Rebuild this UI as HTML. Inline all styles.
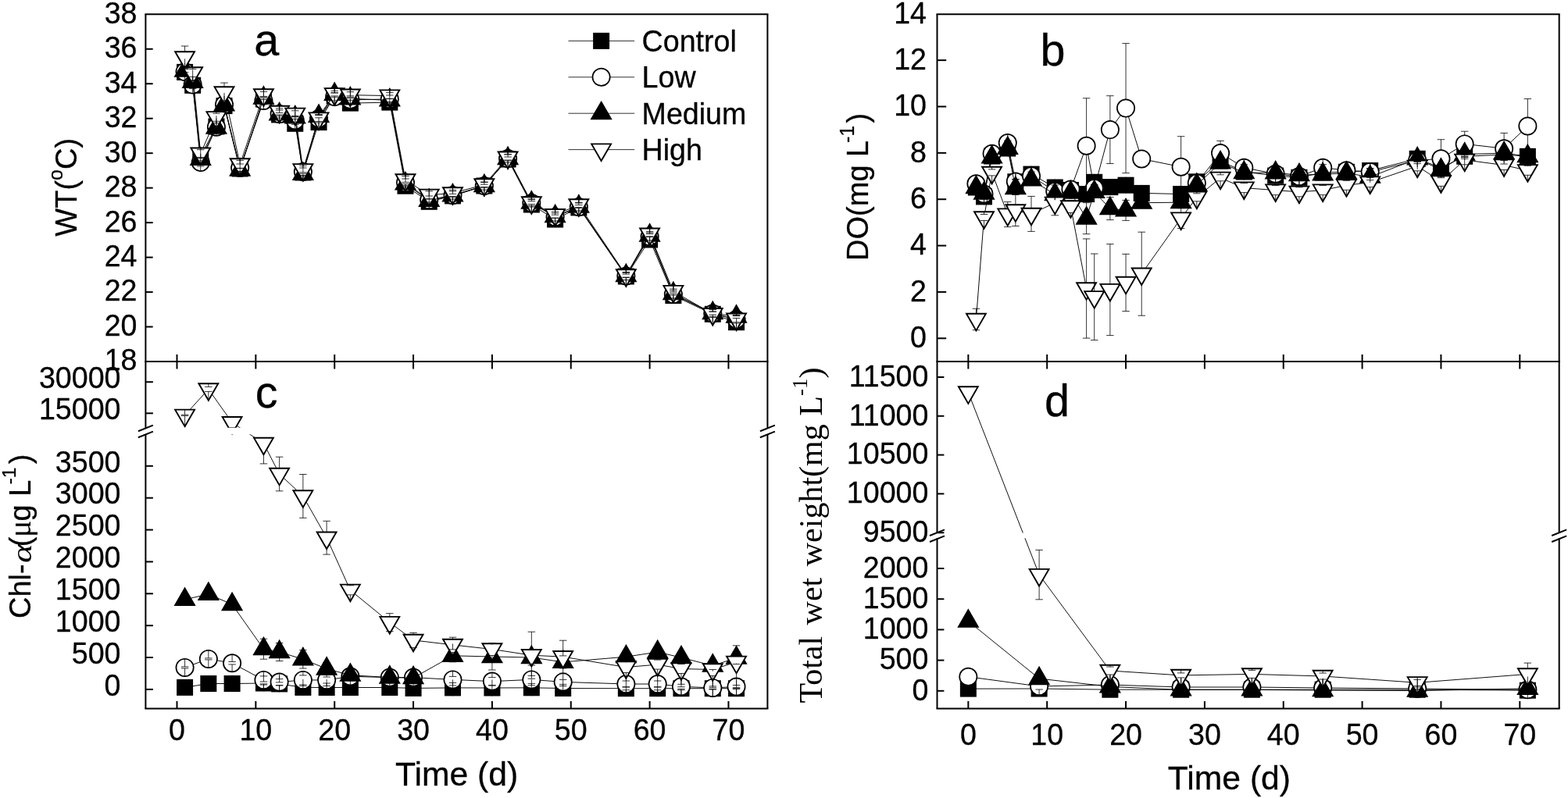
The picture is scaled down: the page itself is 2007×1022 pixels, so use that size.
<!DOCTYPE html>
<html lang="en"><head><meta charset="utf-8"><title>Figure: WT, DO, Chl-a and total wet weight over time</title><style>html,body{margin:0;padding:0;background:#fff}body{width:2007px;height:1022px;overflow:hidden}svg text{fill:#000;stroke:#000;stroke-width:0.3px;stroke-linejoin:round}</style></head><body>
<svg width="2007" height="1022" viewBox="0 0 2007 1022" style="display:block">
<rect width="2007" height="1022" fill="#fff"/>
<defs>
<clipPath id="clipC"><rect x="186.4" y="463.0" width="796.0" height="84.80"/><rect x="186.4" y="556.20" width="796.0" height="351.20"/></clipPath>
<clipPath id="clipD"><rect x="1199.5" y="463.0" width="796.2" height="219.40"/><rect x="1199.5" y="689.20" width="796.2" height="218.20"/></clipPath>
</defs>
<g>
<polyline points="236.59,92.40 246.67,109.30 256.75,200.00 276.93,162.00 287.01,135.60 307.18,216.00 337.44,127.00 357.61,146.90 377.77,158.30 387.86,221.00 408.03,156.60 428.20,123.00 448.37,132.10 498.80,131.10 518.97,238.20 549.22,258.30 579.48,250.90 619.82,238.00 650.07,204.00 680.33,262.00 710.58,281.00 740.84,265.90 801.35,354.00 831.60,307.00 861.86,378.50 912.28,402.30 942.54,412.70" fill="none" stroke="#000" stroke-width="0.95"/>
<rect x="226.09" y="81.90" width="21.0" height="21.0" fill="#000"/>
<rect x="236.17" y="98.80" width="21.0" height="21.0" fill="#000"/>
<rect x="246.25" y="189.50" width="21.0" height="21.0" fill="#000"/>
<rect x="266.43" y="151.50" width="21.0" height="21.0" fill="#000"/>
<rect x="276.51" y="125.10" width="21.0" height="21.0" fill="#000"/>
<rect x="296.68" y="205.50" width="21.0" height="21.0" fill="#000"/>
<rect x="326.94" y="116.50" width="21.0" height="21.0" fill="#000"/>
<rect x="347.11" y="136.40" width="21.0" height="21.0" fill="#000"/>
<rect x="367.27" y="147.80" width="21.0" height="21.0" fill="#000"/>
<rect x="377.36" y="210.50" width="21.0" height="21.0" fill="#000"/>
<rect x="397.53" y="146.10" width="21.0" height="21.0" fill="#000"/>
<rect x="417.70" y="112.50" width="21.0" height="21.0" fill="#000"/>
<rect x="437.87" y="121.60" width="21.0" height="21.0" fill="#000"/>
<rect x="488.30" y="120.60" width="21.0" height="21.0" fill="#000"/>
<rect x="508.47" y="227.70" width="21.0" height="21.0" fill="#000"/>
<rect x="538.72" y="247.80" width="21.0" height="21.0" fill="#000"/>
<rect x="568.98" y="240.40" width="21.0" height="21.0" fill="#000"/>
<rect x="609.32" y="227.50" width="21.0" height="21.0" fill="#000"/>
<rect x="639.57" y="193.50" width="21.0" height="21.0" fill="#000"/>
<rect x="669.83" y="251.50" width="21.0" height="21.0" fill="#000"/>
<rect x="700.08" y="270.50" width="21.0" height="21.0" fill="#000"/>
<rect x="730.34" y="255.40" width="21.0" height="21.0" fill="#000"/>
<rect x="790.85" y="343.50" width="21.0" height="21.0" fill="#000"/>
<rect x="821.10" y="296.50" width="21.0" height="21.0" fill="#000"/>
<rect x="851.36" y="368.00" width="21.0" height="21.0" fill="#000"/>
<rect x="901.78" y="391.80" width="21.0" height="21.0" fill="#000"/>
<rect x="932.04" y="402.20" width="21.0" height="21.0" fill="#000"/>
<polyline points="236.59,91.90 246.67,108.60 256.75,208.00 276.93,162.70 287.01,134.00 307.18,215.00 337.44,128.90 357.61,146.00 377.77,154.30 387.86,220.00 408.03,152.00 428.20,123.90 448.37,127.80 498.80,127.00 518.97,234.00 549.22,256.00 579.48,250.00 619.82,238.00 650.07,202.90 680.33,260.00 710.58,278.00 740.84,265.00 801.35,353.50 831.60,303.00 861.86,377.00 912.28,401.50 942.54,409.00" fill="none" stroke="#000" stroke-width="0.95"/>
<circle cx="236.59" cy="91.90" r="11.15" fill="#fff" stroke="#000" stroke-width="1.7"/>
<circle cx="246.67" cy="108.60" r="11.15" fill="#fff" stroke="#000" stroke-width="1.7"/>
<circle cx="256.75" cy="208.00" r="11.15" fill="#fff" stroke="#000" stroke-width="1.7"/>
<circle cx="276.93" cy="162.70" r="11.15" fill="#fff" stroke="#000" stroke-width="1.7"/>
<circle cx="287.01" cy="134.00" r="11.15" fill="#fff" stroke="#000" stroke-width="1.7"/>
<circle cx="307.18" cy="215.00" r="11.15" fill="#fff" stroke="#000" stroke-width="1.7"/>
<circle cx="337.44" cy="128.90" r="11.15" fill="#fff" stroke="#000" stroke-width="1.7"/>
<circle cx="357.61" cy="146.00" r="11.15" fill="#fff" stroke="#000" stroke-width="1.7"/>
<circle cx="377.77" cy="154.30" r="11.15" fill="#fff" stroke="#000" stroke-width="1.7"/>
<circle cx="387.86" cy="220.00" r="11.15" fill="#fff" stroke="#000" stroke-width="1.7"/>
<circle cx="408.03" cy="152.00" r="11.15" fill="#fff" stroke="#000" stroke-width="1.7"/>
<circle cx="428.20" cy="123.90" r="11.15" fill="#fff" stroke="#000" stroke-width="1.7"/>
<circle cx="448.37" cy="127.80" r="11.15" fill="#fff" stroke="#000" stroke-width="1.7"/>
<circle cx="498.80" cy="127.00" r="11.15" fill="#fff" stroke="#000" stroke-width="1.7"/>
<circle cx="518.97" cy="234.00" r="11.15" fill="#fff" stroke="#000" stroke-width="1.7"/>
<circle cx="549.22" cy="256.00" r="11.15" fill="#fff" stroke="#000" stroke-width="1.7"/>
<circle cx="579.48" cy="250.00" r="11.15" fill="#fff" stroke="#000" stroke-width="1.7"/>
<circle cx="619.82" cy="238.00" r="11.15" fill="#fff" stroke="#000" stroke-width="1.7"/>
<circle cx="650.07" cy="202.90" r="11.15" fill="#fff" stroke="#000" stroke-width="1.7"/>
<circle cx="680.33" cy="260.00" r="11.15" fill="#fff" stroke="#000" stroke-width="1.7"/>
<circle cx="710.58" cy="278.00" r="11.15" fill="#fff" stroke="#000" stroke-width="1.7"/>
<circle cx="740.84" cy="265.00" r="11.15" fill="#fff" stroke="#000" stroke-width="1.7"/>
<circle cx="801.35" cy="353.50" r="11.15" fill="#fff" stroke="#000" stroke-width="1.7"/>
<circle cx="831.60" cy="303.00" r="11.15" fill="#fff" stroke="#000" stroke-width="1.7"/>
<circle cx="861.86" cy="377.00" r="11.15" fill="#fff" stroke="#000" stroke-width="1.7"/>
<circle cx="912.28" cy="401.50" r="11.15" fill="#fff" stroke="#000" stroke-width="1.7"/>
<circle cx="942.54" cy="409.00" r="11.15" fill="#fff" stroke="#000" stroke-width="1.7"/>
<polyline points="236.59,90.70 246.67,104.80 256.75,203.80 276.93,163.50 287.01,134.30 307.18,217.50 337.44,125.50 357.61,146.40 377.77,150.40 387.86,222.80 408.03,148.80 428.20,120.90 448.37,126.30 498.80,128.40 518.97,235.40 549.22,256.90 579.48,250.40 619.82,238.20 650.07,203.00 680.33,259.60 710.58,277.20 740.84,264.60 801.35,353.10 831.60,301.60 861.86,376.00 912.28,401.00 942.54,405.50" fill="none" stroke="#000" stroke-width="0.95"/>
<polygon points="236.59,76.32 249.03,97.89 224.14,97.89" fill="#000" stroke="#000" stroke-width="1.9" stroke-linejoin="miter"/>
<polygon points="246.67,90.42 259.12,111.99 234.22,111.99" fill="#000" stroke="#000" stroke-width="1.9" stroke-linejoin="miter"/>
<polygon points="256.75,189.42 269.20,210.99 244.31,210.99" fill="#000" stroke="#000" stroke-width="1.9" stroke-linejoin="miter"/>
<polygon points="276.93,149.12 289.38,170.69 264.48,170.69" fill="#000" stroke="#000" stroke-width="1.9" stroke-linejoin="miter"/>
<polygon points="287.01,119.92 299.46,141.49 274.56,141.49" fill="#000" stroke="#000" stroke-width="1.9" stroke-linejoin="miter"/>
<polygon points="307.18,203.12 319.63,224.69 294.73,224.69" fill="#000" stroke="#000" stroke-width="1.9" stroke-linejoin="miter"/>
<polygon points="337.44,111.12 349.88,132.69 324.99,132.69" fill="#000" stroke="#000" stroke-width="1.9" stroke-linejoin="miter"/>
<polygon points="357.61,132.02 370.06,153.59 345.16,153.59" fill="#000" stroke="#000" stroke-width="1.9" stroke-linejoin="miter"/>
<polygon points="377.77,136.02 390.22,157.59 365.32,157.59" fill="#000" stroke="#000" stroke-width="1.9" stroke-linejoin="miter"/>
<polygon points="387.86,208.42 400.31,229.99 375.41,229.99" fill="#000" stroke="#000" stroke-width="1.9" stroke-linejoin="miter"/>
<polygon points="408.03,134.42 420.48,155.99 395.58,155.99" fill="#000" stroke="#000" stroke-width="1.9" stroke-linejoin="miter"/>
<polygon points="428.20,106.52 440.65,128.09 415.75,128.09" fill="#000" stroke="#000" stroke-width="1.9" stroke-linejoin="miter"/>
<polygon points="448.37,111.92 460.82,133.49 435.92,133.49" fill="#000" stroke="#000" stroke-width="1.9" stroke-linejoin="miter"/>
<polygon points="498.80,114.02 511.25,135.59 486.35,135.59" fill="#000" stroke="#000" stroke-width="1.9" stroke-linejoin="miter"/>
<polygon points="518.97,221.02 531.42,242.59 506.52,242.59" fill="#000" stroke="#000" stroke-width="1.9" stroke-linejoin="miter"/>
<polygon points="549.22,242.52 561.67,264.09 536.77,264.09" fill="#000" stroke="#000" stroke-width="1.9" stroke-linejoin="miter"/>
<polygon points="579.48,236.02 591.93,257.59 567.02,257.59" fill="#000" stroke="#000" stroke-width="1.9" stroke-linejoin="miter"/>
<polygon points="619.82,223.82 632.27,245.39 607.37,245.39" fill="#000" stroke="#000" stroke-width="1.9" stroke-linejoin="miter"/>
<polygon points="650.07,188.62 662.52,210.19 637.62,210.19" fill="#000" stroke="#000" stroke-width="1.9" stroke-linejoin="miter"/>
<polygon points="680.33,245.22 692.78,266.79 667.88,266.79" fill="#000" stroke="#000" stroke-width="1.9" stroke-linejoin="miter"/>
<polygon points="710.58,262.82 723.03,284.39 698.13,284.39" fill="#000" stroke="#000" stroke-width="1.9" stroke-linejoin="miter"/>
<polygon points="740.84,250.22 753.29,271.79 728.38,271.79" fill="#000" stroke="#000" stroke-width="1.9" stroke-linejoin="miter"/>
<polygon points="801.35,338.72 813.80,360.29 788.89,360.29" fill="#000" stroke="#000" stroke-width="1.9" stroke-linejoin="miter"/>
<polygon points="831.60,287.22 844.05,308.79 819.15,308.79" fill="#000" stroke="#000" stroke-width="1.9" stroke-linejoin="miter"/>
<polygon points="861.86,361.62 874.31,383.19 849.40,383.19" fill="#000" stroke="#000" stroke-width="1.9" stroke-linejoin="miter"/>
<polygon points="912.28,386.62 924.73,408.19 899.83,408.19" fill="#000" stroke="#000" stroke-width="1.9" stroke-linejoin="miter"/>
<polygon points="942.54,391.12 954.99,412.69 930.09,412.69" fill="#000" stroke="#000" stroke-width="1.9" stroke-linejoin="miter"/>
<polyline points="236.59,73.40 246.67,93.40 256.75,196.70 276.93,150.30 287.01,118.40 307.18,210.40 337.44,121.40 357.61,142.90 377.77,145.80 387.86,217.30 408.03,151.60 428.20,120.30 448.37,121.70 498.80,122.60 518.97,230.50 549.22,249.80 579.48,247.40 619.82,236.50 650.07,201.70 680.33,259.40 710.58,275.20 740.84,262.50 801.35,352.50 831.60,299.70 861.86,373.10 912.28,402.20 942.54,408.70" fill="none" stroke="#000" stroke-width="0.95"/>
<polygon points="236.59,87.78 249.03,66.21 224.14,66.21" fill="#fff" stroke="#000" stroke-width="1.9" stroke-linejoin="miter"/>
<polygon points="246.67,107.78 259.12,86.21 234.22,86.21" fill="#fff" stroke="#000" stroke-width="1.9" stroke-linejoin="miter"/>
<polygon points="256.75,211.08 269.20,189.51 244.31,189.51" fill="#fff" stroke="#000" stroke-width="1.9" stroke-linejoin="miter"/>
<polygon points="276.93,164.68 289.38,143.11 264.48,143.11" fill="#fff" stroke="#000" stroke-width="1.9" stroke-linejoin="miter"/>
<polygon points="287.01,132.78 299.46,111.21 274.56,111.21" fill="#fff" stroke="#000" stroke-width="1.9" stroke-linejoin="miter"/>
<polygon points="307.18,224.78 319.63,203.21 294.73,203.21" fill="#fff" stroke="#000" stroke-width="1.9" stroke-linejoin="miter"/>
<polygon points="337.44,135.78 349.88,114.21 324.99,114.21" fill="#fff" stroke="#000" stroke-width="1.9" stroke-linejoin="miter"/>
<polygon points="357.61,157.28 370.06,135.71 345.16,135.71" fill="#fff" stroke="#000" stroke-width="1.9" stroke-linejoin="miter"/>
<polygon points="377.77,160.18 390.22,138.61 365.32,138.61" fill="#fff" stroke="#000" stroke-width="1.9" stroke-linejoin="miter"/>
<polygon points="387.86,231.68 400.31,210.11 375.41,210.11" fill="#fff" stroke="#000" stroke-width="1.9" stroke-linejoin="miter"/>
<polygon points="408.03,165.98 420.48,144.41 395.58,144.41" fill="#fff" stroke="#000" stroke-width="1.9" stroke-linejoin="miter"/>
<polygon points="428.20,134.68 440.65,113.11 415.75,113.11" fill="#fff" stroke="#000" stroke-width="1.9" stroke-linejoin="miter"/>
<polygon points="448.37,136.08 460.82,114.51 435.92,114.51" fill="#fff" stroke="#000" stroke-width="1.9" stroke-linejoin="miter"/>
<polygon points="498.80,136.98 511.25,115.41 486.35,115.41" fill="#fff" stroke="#000" stroke-width="1.9" stroke-linejoin="miter"/>
<polygon points="518.97,244.88 531.42,223.31 506.52,223.31" fill="#fff" stroke="#000" stroke-width="1.9" stroke-linejoin="miter"/>
<polygon points="549.22,264.18 561.67,242.61 536.77,242.61" fill="#fff" stroke="#000" stroke-width="1.9" stroke-linejoin="miter"/>
<polygon points="579.48,261.78 591.93,240.21 567.02,240.21" fill="#fff" stroke="#000" stroke-width="1.9" stroke-linejoin="miter"/>
<polygon points="619.82,250.88 632.27,229.31 607.37,229.31" fill="#fff" stroke="#000" stroke-width="1.9" stroke-linejoin="miter"/>
<polygon points="650.07,216.08 662.52,194.51 637.62,194.51" fill="#fff" stroke="#000" stroke-width="1.9" stroke-linejoin="miter"/>
<polygon points="680.33,273.78 692.78,252.21 667.88,252.21" fill="#fff" stroke="#000" stroke-width="1.9" stroke-linejoin="miter"/>
<polygon points="710.58,289.58 723.03,268.01 698.13,268.01" fill="#fff" stroke="#000" stroke-width="1.9" stroke-linejoin="miter"/>
<polygon points="740.84,276.88 753.29,255.31 728.38,255.31" fill="#fff" stroke="#000" stroke-width="1.9" stroke-linejoin="miter"/>
<polygon points="801.35,366.88 813.80,345.31 788.89,345.31" fill="#fff" stroke="#000" stroke-width="1.9" stroke-linejoin="miter"/>
<polygon points="831.60,314.08 844.05,292.51 819.15,292.51" fill="#fff" stroke="#000" stroke-width="1.9" stroke-linejoin="miter"/>
<polygon points="861.86,387.48 874.31,365.91 849.40,365.91" fill="#fff" stroke="#000" stroke-width="1.9" stroke-linejoin="miter"/>
<polygon points="912.28,416.58 924.73,395.01 899.83,395.01" fill="#fff" stroke="#000" stroke-width="1.9" stroke-linejoin="miter"/>
<polygon points="942.54,423.08 954.99,401.51 930.09,401.51" fill="#fff" stroke="#000" stroke-width="1.9" stroke-linejoin="miter"/>
<path d="M231.84,86.90h9.5M236.59,80.75V86.90M231.84,96.90h9.5M236.59,103.05V96.90M241.92,103.60h9.5M246.67,97.45V103.60M241.92,113.60h9.5M246.67,119.75V113.60M252.00,203.00h9.5M256.75,196.85V203.00M252.00,213.00h9.5M256.75,219.15V213.00M272.18,157.70h9.5M276.93,151.55V157.70M272.18,167.70h9.5M276.93,173.85V167.70M282.26,129.00h9.5M287.01,122.85V129.00M282.26,139.00h9.5M287.01,145.15V139.00M302.43,210.00h9.5M307.18,203.85V210.00M302.43,220.00h9.5M307.18,226.15V220.00M332.69,123.90h9.5M337.44,117.75V123.90M332.69,133.90h9.5M337.44,140.05V133.90M352.86,141.00h9.5M357.61,134.85V141.00M352.86,151.00h9.5M357.61,157.15V151.00M373.02,149.30h9.5M377.77,143.15V149.30M373.02,159.30h9.5M377.77,165.45V159.30M383.11,215.00h9.5M387.86,208.85V215.00M383.11,225.00h9.5M387.86,231.15V225.00M403.28,147.00h9.5M408.03,140.85V147.00M403.28,157.00h9.5M408.03,163.15V157.00M423.45,118.90h9.5M428.20,112.75V118.90M423.45,128.90h9.5M428.20,135.05V128.90M443.62,122.80h9.5M448.37,116.65V122.80M443.62,132.80h9.5M448.37,138.95V132.80M494.05,122.00h9.5M498.80,115.85V122.00M494.05,132.00h9.5M498.80,138.15V132.00M514.22,229.00h9.5M518.97,222.85V229.00M514.22,239.00h9.5M518.97,245.15V239.00M544.47,251.00h9.5M549.22,244.85V251.00M544.47,261.00h9.5M549.22,267.15V261.00M574.73,245.00h9.5M579.48,238.85V245.00M574.73,255.00h9.5M579.48,261.15V255.00M615.07,233.00h9.5M619.82,226.85V233.00M615.07,243.00h9.5M619.82,249.15V243.00M645.32,197.90h9.5M650.07,191.75V197.90M645.32,207.90h9.5M650.07,214.05V207.90M675.58,255.00h9.5M680.33,248.85V255.00M675.58,265.00h9.5M680.33,271.15V265.00M705.83,273.00h9.5M710.58,266.85V273.00M705.83,283.00h9.5M710.58,289.15V283.00M736.09,260.00h9.5M740.84,253.85V260.00M736.09,270.00h9.5M740.84,276.15V270.00M796.60,348.50h9.5M801.35,342.35V348.50M796.60,358.50h9.5M801.35,364.65V358.50M826.85,298.00h9.5M831.60,291.85V298.00M826.85,308.00h9.5M831.60,314.15V308.00M857.11,372.00h9.5M861.86,365.85V372.00M857.11,382.00h9.5M861.86,388.15V382.00M907.53,396.50h9.5M912.28,390.35V396.50M907.53,406.50h9.5M912.28,412.65V406.50M937.79,404.00h9.5M942.54,397.85V404.00M937.79,414.00h9.5M942.54,420.15V414.00" fill="none" stroke="#000" stroke-width="0.8"/>
<path d="M231.84,88.70h9.5M236.59,75.32V88.70M231.84,92.70h9.5M236.59,97.89V92.70M241.92,102.80h9.5M246.67,89.42V102.80M241.92,106.80h9.5M246.67,111.99V106.80M252.00,201.80h9.5M256.75,188.42V201.80M252.00,205.80h9.5M256.75,210.99V205.80M272.18,161.50h9.5M276.93,148.12V161.50M272.18,165.50h9.5M276.93,170.69V165.50M282.26,132.30h9.5M287.01,118.92V132.30M282.26,136.30h9.5M287.01,141.49V136.30M302.43,215.50h9.5M307.18,202.12V215.50M302.43,219.50h9.5M307.18,224.69V219.50M332.69,123.50h9.5M337.44,110.12V123.50M332.69,127.50h9.5M337.44,132.69V127.50M352.86,144.40h9.5M357.61,131.02V144.40M352.86,148.40h9.5M357.61,153.59V148.40M373.02,148.40h9.5M377.77,135.02V148.40M373.02,152.40h9.5M377.77,157.59V152.40M383.11,220.80h9.5M387.86,207.42V220.80M383.11,224.80h9.5M387.86,229.99V224.80M403.28,146.80h9.5M408.03,133.42V146.80M403.28,150.80h9.5M408.03,155.99V150.80M423.45,118.90h9.5M428.20,105.52V118.90M423.45,122.90h9.5M428.20,128.09V122.90M443.62,124.30h9.5M448.37,110.92V124.30M443.62,128.30h9.5M448.37,133.49V128.30M494.05,126.40h9.5M498.80,113.02V126.40M494.05,130.40h9.5M498.80,135.59V130.40M514.22,233.40h9.5M518.97,220.02V233.40M514.22,237.40h9.5M518.97,242.59V237.40M544.47,254.90h9.5M549.22,241.52V254.90M544.47,258.90h9.5M549.22,264.09V258.90M574.73,248.40h9.5M579.48,235.02V248.40M574.73,252.40h9.5M579.48,257.59V252.40M615.07,236.20h9.5M619.82,222.82V236.20M615.07,240.20h9.5M619.82,245.39V240.20M645.32,201.00h9.5M650.07,187.62V201.00M645.32,205.00h9.5M650.07,210.19V205.00M675.58,257.60h9.5M680.33,244.22V257.60M675.58,261.60h9.5M680.33,266.79V261.60M705.83,275.20h9.5M710.58,261.82V275.20M705.83,279.20h9.5M710.58,284.39V279.20M736.09,262.60h9.5M740.84,249.22V262.60M736.09,266.60h9.5M740.84,271.79V266.60M796.60,351.10h9.5M801.35,337.72V351.10M796.60,355.10h9.5M801.35,360.29V355.10M826.85,299.60h9.5M831.60,286.22V299.60M826.85,303.60h9.5M831.60,308.79V303.60M857.11,374.00h9.5M861.86,360.62V374.00M857.11,378.00h9.5M861.86,383.19V378.00M907.53,399.00h9.5M912.28,385.62V399.00M907.53,403.00h9.5M912.28,408.19V403.00M937.79,403.50h9.5M942.54,390.12V403.50M937.79,407.50h9.5M942.54,412.69V407.50" fill="none" stroke="#000" stroke-width="0.8"/>
<path d="M231.84,59.00h9.5M236.59,66.21V59.00M231.84,87.80h9.5M236.59,88.78V87.80M241.92,88.40h9.5M246.67,86.21V88.40M241.92,98.40h9.5M246.67,108.78V98.40M252.00,191.70h9.5M256.75,189.51V191.70M252.00,201.70h9.5M256.75,212.08V201.70M272.18,145.30h9.5M276.93,143.11V145.30M272.18,155.30h9.5M276.93,165.68V155.30M282.26,106.10h9.5M287.01,111.21V106.10M282.26,130.70h9.5M287.01,133.78V130.70M302.43,205.40h9.5M307.18,203.21V205.40M302.43,215.40h9.5M307.18,225.78V215.40M332.69,117.40h9.5M337.44,114.21V117.40M332.69,125.40h9.5M337.44,136.78V125.40M352.86,138.90h9.5M357.61,135.71V138.90M352.86,146.90h9.5M357.61,158.28V146.90M373.02,141.80h9.5M377.77,138.61V141.80M373.02,149.80h9.5M377.77,161.18V149.80M383.11,212.30h9.5M387.86,210.11V212.30M383.11,222.30h9.5M387.86,232.68V222.30M403.28,147.60h9.5M408.03,144.41V147.60M403.28,155.60h9.5M408.03,166.98V155.60M423.45,116.30h9.5M428.20,113.11V116.30M423.45,124.30h9.5M428.20,135.68V124.30M443.62,117.70h9.5M448.37,114.51V117.70M443.62,125.70h9.5M448.37,137.08V125.70M494.05,118.60h9.5M498.80,115.41V118.60M494.05,126.60h9.5M498.80,137.98V126.60M514.22,225.50h9.5M518.97,223.31V225.50M514.22,235.50h9.5M518.97,245.88V235.50M544.47,244.80h9.5M549.22,242.61V244.80M544.47,254.80h9.5M549.22,265.18V254.80M574.73,243.40h9.5M579.48,240.21V243.40M574.73,251.40h9.5M579.48,262.78V251.40M615.07,233.50h9.5M619.82,229.31V233.50M615.07,239.50h9.5M619.82,251.88V239.50M645.32,197.70h9.5M650.07,194.51V197.70M645.32,205.70h9.5M650.07,217.08V205.70M675.58,255.40h9.5M680.33,252.21V255.40M675.58,263.40h9.5M680.33,274.78V263.40M705.83,271.20h9.5M710.58,268.01V271.20M705.83,279.20h9.5M710.58,290.58V279.20M736.09,259.50h9.5M740.84,255.31V259.50M736.09,265.50h9.5M740.84,277.88V265.50M796.60,349.50h9.5M801.35,345.31V349.50M796.60,355.50h9.5M801.35,367.88V355.50M826.85,296.70h9.5M831.60,292.51V296.70M826.85,302.70h9.5M831.60,315.08V302.70M857.11,370.10h9.5M861.86,365.91V370.10M857.11,376.10h9.5M861.86,388.48V376.10M907.53,399.20h9.5M912.28,395.01V399.20M907.53,405.20h9.5M912.28,417.58V405.20M937.79,404.70h9.5M942.54,401.51V404.70M937.79,412.70h9.5M942.54,424.08V412.70" fill="none" stroke="#000" stroke-width="0.8"/>
</g>
<g>
<polyline points="1249.43,240.00 1259.52,251.90 1269.61,200.00 1289.77,190.00 1299.86,232.80 1320.03,223.10 1350.28,240.00 1370.45,243.50 1390.62,248.60 1400.71,233.30 1420.88,239.60 1441.05,237.20 1461.22,247.40 1511.64,248.50 1531.82,232.80 1562.07,206.00 1592.32,220.00 1632.66,225.10 1662.92,227.30 1693.17,221.00 1723.43,220.30 1753.68,218.50 1814.19,203.30 1844.45,215.00 1874.70,200.30 1925.13,198.00 1955.38,200.30" fill="none" stroke="#000" stroke-width="0.95"/>
<rect x="1238.93" y="229.50" width="21.0" height="21.0" fill="#000"/>
<rect x="1249.02" y="241.40" width="21.0" height="21.0" fill="#000"/>
<rect x="1259.11" y="189.50" width="21.0" height="21.0" fill="#000"/>
<rect x="1279.27" y="179.50" width="21.0" height="21.0" fill="#000"/>
<rect x="1289.36" y="222.30" width="21.0" height="21.0" fill="#000"/>
<rect x="1309.53" y="212.60" width="21.0" height="21.0" fill="#000"/>
<rect x="1339.78" y="229.50" width="21.0" height="21.0" fill="#000"/>
<rect x="1359.95" y="233.00" width="21.0" height="21.0" fill="#000"/>
<rect x="1380.12" y="238.10" width="21.0" height="21.0" fill="#000"/>
<rect x="1390.21" y="222.80" width="21.0" height="21.0" fill="#000"/>
<rect x="1410.38" y="229.10" width="21.0" height="21.0" fill="#000"/>
<rect x="1430.55" y="226.70" width="21.0" height="21.0" fill="#000"/>
<rect x="1450.72" y="236.90" width="21.0" height="21.0" fill="#000"/>
<rect x="1501.14" y="238.00" width="21.0" height="21.0" fill="#000"/>
<rect x="1521.32" y="222.30" width="21.0" height="21.0" fill="#000"/>
<rect x="1551.57" y="195.50" width="21.0" height="21.0" fill="#000"/>
<rect x="1581.82" y="209.50" width="21.0" height="21.0" fill="#000"/>
<rect x="1622.16" y="214.60" width="21.0" height="21.0" fill="#000"/>
<rect x="1652.42" y="216.80" width="21.0" height="21.0" fill="#000"/>
<rect x="1682.67" y="210.50" width="21.0" height="21.0" fill="#000"/>
<rect x="1712.93" y="209.80" width="21.0" height="21.0" fill="#000"/>
<rect x="1743.18" y="208.00" width="21.0" height="21.0" fill="#000"/>
<rect x="1803.69" y="192.80" width="21.0" height="21.0" fill="#000"/>
<rect x="1833.95" y="204.50" width="21.0" height="21.0" fill="#000"/>
<rect x="1864.20" y="189.80" width="21.0" height="21.0" fill="#000"/>
<rect x="1914.63" y="187.50" width="21.0" height="21.0" fill="#000"/>
<rect x="1944.88" y="189.80" width="21.0" height="21.0" fill="#000"/>
<polyline points="1249.43,235.30 1259.52,248.40 1269.61,196.80 1289.77,183.10 1299.86,232.50 1320.03,225.40 1350.28,245.00 1370.45,242.60 1390.62,186.80 1400.71,241.10 1420.88,166.10 1441.05,138.60 1461.22,203.50 1511.64,213.70 1531.82,234.60 1562.07,196.10 1592.32,214.70 1632.66,222.70 1662.92,226.00 1693.17,214.70 1723.43,218.20 1753.68,220.10 1814.19,205.60 1844.45,203.20 1874.70,184.40 1925.13,190.20 1955.38,161.50" fill="none" stroke="#000" stroke-width="0.95"/>
<circle cx="1249.43" cy="235.30" r="11.15" fill="#fff" stroke="#000" stroke-width="1.7"/>
<circle cx="1259.52" cy="248.40" r="11.15" fill="#fff" stroke="#000" stroke-width="1.7"/>
<circle cx="1269.61" cy="196.80" r="11.15" fill="#fff" stroke="#000" stroke-width="1.7"/>
<circle cx="1289.77" cy="183.10" r="11.15" fill="#fff" stroke="#000" stroke-width="1.7"/>
<circle cx="1299.86" cy="232.50" r="11.15" fill="#fff" stroke="#000" stroke-width="1.7"/>
<circle cx="1320.03" cy="225.40" r="11.15" fill="#fff" stroke="#000" stroke-width="1.7"/>
<circle cx="1350.28" cy="245.00" r="11.15" fill="#fff" stroke="#000" stroke-width="1.7"/>
<circle cx="1370.45" cy="242.60" r="11.15" fill="#fff" stroke="#000" stroke-width="1.7"/>
<circle cx="1390.62" cy="186.80" r="11.15" fill="#fff" stroke="#000" stroke-width="1.7"/>
<circle cx="1400.71" cy="241.10" r="11.15" fill="#fff" stroke="#000" stroke-width="1.7"/>
<circle cx="1420.88" cy="166.10" r="11.15" fill="#fff" stroke="#000" stroke-width="1.7"/>
<circle cx="1441.05" cy="138.60" r="11.15" fill="#fff" stroke="#000" stroke-width="1.7"/>
<circle cx="1461.22" cy="203.50" r="11.15" fill="#fff" stroke="#000" stroke-width="1.7"/>
<circle cx="1511.64" cy="213.70" r="11.15" fill="#fff" stroke="#000" stroke-width="1.7"/>
<circle cx="1531.82" cy="234.60" r="11.15" fill="#fff" stroke="#000" stroke-width="1.7"/>
<circle cx="1562.07" cy="196.10" r="11.15" fill="#fff" stroke="#000" stroke-width="1.7"/>
<circle cx="1592.32" cy="214.70" r="11.15" fill="#fff" stroke="#000" stroke-width="1.7"/>
<circle cx="1632.66" cy="222.70" r="11.15" fill="#fff" stroke="#000" stroke-width="1.7"/>
<circle cx="1662.92" cy="226.00" r="11.15" fill="#fff" stroke="#000" stroke-width="1.7"/>
<circle cx="1693.17" cy="214.70" r="11.15" fill="#fff" stroke="#000" stroke-width="1.7"/>
<circle cx="1723.43" cy="218.20" r="11.15" fill="#fff" stroke="#000" stroke-width="1.7"/>
<circle cx="1753.68" cy="220.10" r="11.15" fill="#fff" stroke="#000" stroke-width="1.7"/>
<circle cx="1814.19" cy="205.60" r="11.15" fill="#fff" stroke="#000" stroke-width="1.7"/>
<circle cx="1844.45" cy="203.20" r="11.15" fill="#fff" stroke="#000" stroke-width="1.7"/>
<circle cx="1874.70" cy="184.40" r="11.15" fill="#fff" stroke="#000" stroke-width="1.7"/>
<circle cx="1925.13" cy="190.20" r="11.15" fill="#fff" stroke="#000" stroke-width="1.7"/>
<circle cx="1955.38" cy="161.50" r="11.15" fill="#fff" stroke="#000" stroke-width="1.7"/>
<polyline points="1249.43,240.00 1259.52,247.70 1269.61,201.30 1289.77,189.80 1299.86,241.20 1320.03,230.30 1350.28,249.00 1370.45,246.60 1390.62,279.70 1400.71,245.80 1420.88,267.10 1441.05,269.40 1461.22,259.70 1511.64,259.20 1531.82,236.80 1562.07,208.40 1592.32,221.10 1632.66,221.30 1662.92,224.20 1693.17,223.30 1723.43,221.70 1753.68,226.60 1814.19,203.30 1844.45,217.50 1874.70,197.50 1925.13,196.20 1955.38,200.00" fill="none" stroke="#000" stroke-width="0.95"/>
<polygon points="1249.43,225.62 1261.88,247.19 1236.98,247.19" fill="#000" stroke="#000" stroke-width="1.9" stroke-linejoin="miter"/>
<polygon points="1259.52,233.32 1271.97,254.89 1247.07,254.89" fill="#000" stroke="#000" stroke-width="1.9" stroke-linejoin="miter"/>
<polygon points="1269.61,186.92 1282.06,208.49 1257.15,208.49" fill="#000" stroke="#000" stroke-width="1.9" stroke-linejoin="miter"/>
<polygon points="1289.77,175.42 1302.22,196.99 1277.32,196.99" fill="#000" stroke="#000" stroke-width="1.9" stroke-linejoin="miter"/>
<polygon points="1299.86,226.82 1312.31,248.39 1287.41,248.39" fill="#000" stroke="#000" stroke-width="1.9" stroke-linejoin="miter"/>
<polygon points="1320.03,215.92 1332.48,237.49 1307.58,237.49" fill="#000" stroke="#000" stroke-width="1.9" stroke-linejoin="miter"/>
<polygon points="1350.28,234.62 1362.73,256.19 1337.83,256.19" fill="#000" stroke="#000" stroke-width="1.9" stroke-linejoin="miter"/>
<polygon points="1370.45,232.22 1382.90,253.79 1358.00,253.79" fill="#000" stroke="#000" stroke-width="1.9" stroke-linejoin="miter"/>
<polygon points="1390.62,265.32 1403.08,286.89 1378.17,286.89" fill="#000" stroke="#000" stroke-width="1.9" stroke-linejoin="miter"/>
<polygon points="1400.71,231.42 1413.16,252.99 1388.26,252.99" fill="#000" stroke="#000" stroke-width="1.9" stroke-linejoin="miter"/>
<polygon points="1420.88,252.72 1433.33,274.29 1408.43,274.29" fill="#000" stroke="#000" stroke-width="1.9" stroke-linejoin="miter"/>
<polygon points="1441.05,255.02 1453.50,276.59 1428.60,276.59" fill="#000" stroke="#000" stroke-width="1.9" stroke-linejoin="miter"/>
<polygon points="1461.22,245.32 1473.67,266.89 1448.77,266.89" fill="#000" stroke="#000" stroke-width="1.9" stroke-linejoin="miter"/>
<polygon points="1511.64,244.82 1524.10,266.39 1499.19,266.39" fill="#000" stroke="#000" stroke-width="1.9" stroke-linejoin="miter"/>
<polygon points="1531.82,222.42 1544.27,243.99 1519.37,243.99" fill="#000" stroke="#000" stroke-width="1.9" stroke-linejoin="miter"/>
<polygon points="1562.07,194.02 1574.52,215.59 1549.62,215.59" fill="#000" stroke="#000" stroke-width="1.9" stroke-linejoin="miter"/>
<polygon points="1592.32,206.72 1604.77,228.29 1579.87,228.29" fill="#000" stroke="#000" stroke-width="1.9" stroke-linejoin="miter"/>
<polygon points="1632.66,206.92 1645.12,228.49 1620.21,228.49" fill="#000" stroke="#000" stroke-width="1.9" stroke-linejoin="miter"/>
<polygon points="1662.92,209.82 1675.37,231.39 1650.47,231.39" fill="#000" stroke="#000" stroke-width="1.9" stroke-linejoin="miter"/>
<polygon points="1693.17,208.92 1705.62,230.49 1680.72,230.49" fill="#000" stroke="#000" stroke-width="1.9" stroke-linejoin="miter"/>
<polygon points="1723.43,207.32 1735.88,228.89 1710.98,228.89" fill="#000" stroke="#000" stroke-width="1.9" stroke-linejoin="miter"/>
<polygon points="1753.68,212.22 1766.13,233.79 1741.23,233.79" fill="#000" stroke="#000" stroke-width="1.9" stroke-linejoin="miter"/>
<polygon points="1814.19,188.92 1826.64,210.49 1801.74,210.49" fill="#000" stroke="#000" stroke-width="1.9" stroke-linejoin="miter"/>
<polygon points="1844.45,203.12 1856.90,224.69 1832.00,224.69" fill="#000" stroke="#000" stroke-width="1.9" stroke-linejoin="miter"/>
<polygon points="1874.70,183.12 1887.15,204.69 1862.25,204.69" fill="#000" stroke="#000" stroke-width="1.9" stroke-linejoin="miter"/>
<polygon points="1925.13,181.82 1937.58,203.39 1912.68,203.39" fill="#000" stroke="#000" stroke-width="1.9" stroke-linejoin="miter"/>
<polygon points="1955.38,185.62 1967.84,207.19 1942.93,207.19" fill="#000" stroke="#000" stroke-width="1.9" stroke-linejoin="miter"/>
<polyline points="1249.43,409.00 1259.52,278.50 1269.61,220.90 1289.77,274.60 1299.86,269.50 1320.03,273.90 1350.28,259.80 1370.45,264.50 1390.62,369.50 1400.71,380.30 1420.88,371.10 1441.05,362.00 1461.22,350.70 1511.64,279.60 1531.82,252.80 1562.07,227.80 1592.32,240.60 1632.66,243.60 1662.92,245.80 1693.17,243.60 1723.43,237.30 1753.68,233.60 1814.19,212.80 1844.45,232.40 1874.70,204.80 1925.13,211.50 1955.38,218.30" fill="none" stroke="#000" stroke-width="0.95"/>
<polygon points="1249.43,423.38 1261.88,401.81 1236.98,401.81" fill="#fff" stroke="#000" stroke-width="1.9" stroke-linejoin="miter"/>
<polygon points="1259.52,292.88 1271.97,271.31 1247.07,271.31" fill="#fff" stroke="#000" stroke-width="1.9" stroke-linejoin="miter"/>
<polygon points="1269.61,235.28 1282.06,213.71 1257.15,213.71" fill="#fff" stroke="#000" stroke-width="1.9" stroke-linejoin="miter"/>
<polygon points="1289.77,288.98 1302.22,267.41 1277.32,267.41" fill="#fff" stroke="#000" stroke-width="1.9" stroke-linejoin="miter"/>
<polygon points="1299.86,283.88 1312.31,262.31 1287.41,262.31" fill="#fff" stroke="#000" stroke-width="1.9" stroke-linejoin="miter"/>
<polygon points="1320.03,288.28 1332.48,266.71 1307.58,266.71" fill="#fff" stroke="#000" stroke-width="1.9" stroke-linejoin="miter"/>
<polygon points="1350.28,274.18 1362.73,252.61 1337.83,252.61" fill="#fff" stroke="#000" stroke-width="1.9" stroke-linejoin="miter"/>
<polygon points="1370.45,278.88 1382.90,257.31 1358.00,257.31" fill="#fff" stroke="#000" stroke-width="1.9" stroke-linejoin="miter"/>
<polygon points="1390.62,383.88 1403.08,362.31 1378.17,362.31" fill="#fff" stroke="#000" stroke-width="1.9" stroke-linejoin="miter"/>
<polygon points="1400.71,394.68 1413.16,373.11 1388.26,373.11" fill="#fff" stroke="#000" stroke-width="1.9" stroke-linejoin="miter"/>
<polygon points="1420.88,385.48 1433.33,363.91 1408.43,363.91" fill="#fff" stroke="#000" stroke-width="1.9" stroke-linejoin="miter"/>
<polygon points="1441.05,376.38 1453.50,354.81 1428.60,354.81" fill="#fff" stroke="#000" stroke-width="1.9" stroke-linejoin="miter"/>
<polygon points="1461.22,365.08 1473.67,343.51 1448.77,343.51" fill="#fff" stroke="#000" stroke-width="1.9" stroke-linejoin="miter"/>
<polygon points="1511.64,293.98 1524.10,272.41 1499.19,272.41" fill="#fff" stroke="#000" stroke-width="1.9" stroke-linejoin="miter"/>
<polygon points="1531.82,267.18 1544.27,245.61 1519.37,245.61" fill="#fff" stroke="#000" stroke-width="1.9" stroke-linejoin="miter"/>
<polygon points="1562.07,242.18 1574.52,220.61 1549.62,220.61" fill="#fff" stroke="#000" stroke-width="1.9" stroke-linejoin="miter"/>
<polygon points="1592.32,254.98 1604.77,233.41 1579.87,233.41" fill="#fff" stroke="#000" stroke-width="1.9" stroke-linejoin="miter"/>
<polygon points="1632.66,257.98 1645.12,236.41 1620.21,236.41" fill="#fff" stroke="#000" stroke-width="1.9" stroke-linejoin="miter"/>
<polygon points="1662.92,260.18 1675.37,238.61 1650.47,238.61" fill="#fff" stroke="#000" stroke-width="1.9" stroke-linejoin="miter"/>
<polygon points="1693.17,257.98 1705.62,236.41 1680.72,236.41" fill="#fff" stroke="#000" stroke-width="1.9" stroke-linejoin="miter"/>
<polygon points="1723.43,251.68 1735.88,230.11 1710.98,230.11" fill="#fff" stroke="#000" stroke-width="1.9" stroke-linejoin="miter"/>
<polygon points="1753.68,247.98 1766.13,226.41 1741.23,226.41" fill="#fff" stroke="#000" stroke-width="1.9" stroke-linejoin="miter"/>
<polygon points="1814.19,227.18 1826.64,205.61 1801.74,205.61" fill="#fff" stroke="#000" stroke-width="1.9" stroke-linejoin="miter"/>
<polygon points="1844.45,246.78 1856.90,225.21 1832.00,225.21" fill="#fff" stroke="#000" stroke-width="1.9" stroke-linejoin="miter"/>
<polygon points="1874.70,219.18 1887.15,197.61 1862.25,197.61" fill="#fff" stroke="#000" stroke-width="1.9" stroke-linejoin="miter"/>
<polygon points="1925.13,225.88 1937.58,204.31 1912.68,204.31" fill="#fff" stroke="#000" stroke-width="1.9" stroke-linejoin="miter"/>
<polygon points="1955.38,232.68 1967.84,211.11 1942.93,211.11" fill="#fff" stroke="#000" stroke-width="1.9" stroke-linejoin="miter"/>
<path d="M1244.68,237.00h9.5M1249.43,229.50V237.00M1244.68,243.00h9.5M1249.43,250.50V243.00M1254.77,248.90h9.5M1259.52,241.40V248.90M1254.77,254.90h9.5M1259.52,262.40V254.90M1264.86,197.00h9.5M1269.61,189.50V197.00M1264.86,203.00h9.5M1269.61,210.50V203.00M1285.02,187.00h9.5M1289.77,179.50V187.00M1285.02,193.00h9.5M1289.77,200.50V193.00M1295.11,229.80h9.5M1299.86,222.30V229.80M1295.11,235.80h9.5M1299.86,243.30V235.80M1315.28,220.10h9.5M1320.03,212.60V220.10M1315.28,226.10h9.5M1320.03,233.60V226.10M1345.53,237.00h9.5M1350.28,229.50V237.00M1345.53,243.00h9.5M1350.28,250.50V243.00M1365.70,240.50h9.5M1370.45,233.00V240.50M1365.70,246.50h9.5M1370.45,254.00V246.50M1385.88,245.60h9.5M1390.62,238.10V245.60M1385.88,251.60h9.5M1390.62,259.10V251.60M1395.96,230.30h9.5M1400.71,222.80V230.30M1395.96,236.30h9.5M1400.71,243.80V236.30M1416.13,236.60h9.5M1420.88,229.10V236.60M1416.13,242.60h9.5M1420.88,250.10V242.60M1436.30,234.20h9.5M1441.05,226.70V234.20M1436.30,240.20h9.5M1441.05,247.70V240.20M1456.47,244.40h9.5M1461.22,236.90V244.40M1456.47,250.40h9.5M1461.22,257.90V250.40M1506.89,245.50h9.5M1511.64,238.00V245.50M1506.89,251.50h9.5M1511.64,259.00V251.50M1527.07,229.80h9.5M1531.82,222.30V229.80M1527.07,235.80h9.5M1531.82,243.30V235.80M1557.32,203.00h9.5M1562.07,195.50V203.00M1557.32,209.00h9.5M1562.07,216.50V209.00M1587.57,217.00h9.5M1592.32,209.50V217.00M1587.57,223.00h9.5M1592.32,230.50V223.00M1627.91,222.10h9.5M1632.66,214.60V222.10M1627.91,228.10h9.5M1632.66,235.60V228.10M1658.17,224.30h9.5M1662.92,216.80V224.30M1658.17,230.30h9.5M1662.92,237.80V230.30M1688.42,218.00h9.5M1693.17,210.50V218.00M1688.42,224.00h9.5M1693.17,231.50V224.00M1718.68,217.30h9.5M1723.43,209.80V217.30M1718.68,223.30h9.5M1723.43,230.80V223.30M1748.93,215.50h9.5M1753.68,208.00V215.50M1748.93,221.50h9.5M1753.68,229.00V221.50M1809.44,200.30h9.5M1814.19,192.80V200.30M1809.44,206.30h9.5M1814.19,213.80V206.30M1839.70,212.00h9.5M1844.45,204.50V212.00M1839.70,218.00h9.5M1844.45,225.50V218.00M1869.95,197.30h9.5M1874.70,189.80V197.30M1869.95,203.30h9.5M1874.70,210.80V203.30M1920.38,195.00h9.5M1925.13,187.50V195.00M1920.38,201.00h9.5M1925.13,208.50V201.00M1950.63,197.30h9.5M1955.38,189.80V197.30M1950.63,203.30h9.5M1955.38,210.80V203.30" fill="none" stroke="#000" stroke-width="0.8"/>
<path d="M1244.68,232.30h9.5M1249.43,224.15V232.30M1244.68,238.30h9.5M1249.43,246.45V238.30M1254.77,245.40h9.5M1259.52,237.25V245.40M1254.77,251.40h9.5M1259.52,259.55V251.40M1264.86,193.80h9.5M1269.61,185.65V193.80M1264.86,199.80h9.5M1269.61,207.95V199.80M1285.02,180.10h9.5M1289.77,171.95V180.10M1285.02,186.10h9.5M1289.77,194.25V186.10M1295.11,229.50h9.5M1299.86,221.35V229.50M1295.11,235.50h9.5M1299.86,243.65V235.50M1315.28,222.40h9.5M1320.03,214.25V222.40M1315.28,228.40h9.5M1320.03,236.55V228.40M1345.53,242.00h9.5M1350.28,233.85V242.00M1345.53,248.00h9.5M1350.28,256.15V248.00M1365.70,239.60h9.5M1370.45,231.45V239.60M1365.70,245.60h9.5M1370.45,253.75V245.60M1385.88,125.80h9.5M1390.62,175.65V125.80M1385.88,247.80h9.5M1390.62,197.95V247.80M1395.96,237.10h9.5M1400.71,229.95V237.10M1395.96,245.10h9.5M1400.71,252.25V245.10M1416.13,122.70h9.5M1420.88,154.95V122.70M1416.13,209.50h9.5M1420.88,177.25V209.50M1436.30,55.60h9.5M1441.05,127.45V55.60M1436.30,221.60h9.5M1441.05,149.75V221.60M1506.89,174.70h9.5M1511.64,202.55V174.70M1506.89,252.70h9.5M1511.64,224.85V252.70M1527.07,231.60h9.5M1531.82,223.45V231.60M1527.07,237.60h9.5M1531.82,245.75V237.60M1557.32,180.40h9.5M1562.07,184.95V180.40M1557.32,211.80h9.5M1562.07,207.25V211.80M1587.57,210.70h9.5M1592.32,203.55V210.70M1587.57,218.70h9.5M1592.32,225.85V218.70M1627.91,218.70h9.5M1632.66,211.55V218.70M1627.91,226.70h9.5M1632.66,233.85V226.70M1658.17,222.00h9.5M1662.92,214.85V222.00M1658.17,230.00h9.5M1662.92,237.15V230.00M1688.42,210.70h9.5M1693.17,203.55V210.70M1688.42,218.70h9.5M1693.17,225.85V218.70M1718.68,214.20h9.5M1723.43,207.05V214.20M1718.68,222.20h9.5M1723.43,229.35V222.20M1748.93,216.10h9.5M1753.68,208.95V216.10M1748.93,224.10h9.5M1753.68,231.25V224.10M1809.44,201.60h9.5M1814.19,194.45V201.60M1809.44,209.60h9.5M1814.19,216.75V209.60M1839.70,178.70h9.5M1844.45,192.05V178.70M1839.70,227.70h9.5M1844.45,214.35V227.70M1869.95,168.20h9.5M1874.70,173.25V168.20M1869.95,200.60h9.5M1874.70,195.55V200.60M1920.38,170.40h9.5M1925.13,179.05V170.40M1920.38,210.00h9.5M1925.13,201.35V210.00M1950.63,126.60h9.5M1955.38,150.35V126.60M1950.63,196.40h9.5M1955.38,172.65V196.40" fill="none" stroke="#000" stroke-width="0.8"/>
<path d="M1244.68,237.00h9.5M1249.43,224.62V237.00M1244.68,243.00h9.5M1249.43,247.19V243.00M1254.77,244.70h9.5M1259.52,232.32V244.70M1254.77,250.70h9.5M1259.52,254.89V250.70M1264.86,198.30h9.5M1269.61,185.92V198.30M1264.86,204.30h9.5M1269.61,208.49V204.30M1285.02,186.80h9.5M1289.77,174.42V186.80M1285.02,192.80h9.5M1289.77,196.99V192.80M1295.11,238.20h9.5M1299.86,225.82V238.20M1295.11,244.20h9.5M1299.86,248.39V244.20M1315.28,227.30h9.5M1320.03,214.92V227.30M1315.28,233.30h9.5M1320.03,237.49V233.30M1345.53,246.00h9.5M1350.28,233.62V246.00M1345.53,252.00h9.5M1350.28,256.19V252.00M1365.70,243.60h9.5M1370.45,231.22V243.60M1365.70,249.60h9.5M1370.45,253.79V249.60M1385.88,259.70h9.5M1390.62,264.32V259.70M1385.88,299.70h9.5M1390.62,286.89V299.70M1395.96,241.80h9.5M1400.71,230.42V241.80M1395.96,249.80h9.5M1400.71,252.99V249.80M1416.13,252.60h9.5M1420.88,251.72V252.60M1416.13,281.60h9.5M1420.88,274.29V281.60M1436.30,256.40h9.5M1441.05,254.02V256.40M1436.30,282.40h9.5M1441.05,276.59V282.40M1456.47,255.70h9.5M1461.22,244.32V255.70M1456.47,263.70h9.5M1461.22,266.89V263.70M1506.89,255.20h9.5M1511.64,243.82V255.20M1506.89,263.20h9.5M1511.64,266.39V263.20M1527.07,232.80h9.5M1531.82,221.42V232.80M1527.07,240.80h9.5M1531.82,243.99V240.80M1557.32,204.40h9.5M1562.07,193.02V204.40M1557.32,212.40h9.5M1562.07,215.59V212.40M1587.57,217.10h9.5M1592.32,205.72V217.10M1587.57,225.10h9.5M1592.32,228.29V225.10M1627.91,217.30h9.5M1632.66,205.92V217.30M1627.91,225.30h9.5M1632.66,228.49V225.30M1658.17,220.20h9.5M1662.92,208.82V220.20M1658.17,228.20h9.5M1662.92,231.39V228.20M1688.42,219.30h9.5M1693.17,207.92V219.30M1688.42,227.30h9.5M1693.17,230.49V227.30M1718.68,217.70h9.5M1723.43,206.32V217.70M1718.68,225.70h9.5M1723.43,228.89V225.70M1748.93,222.60h9.5M1753.68,211.22V222.60M1748.93,230.60h9.5M1753.68,233.79V230.60M1809.44,199.30h9.5M1814.19,187.92V199.30M1809.44,207.30h9.5M1814.19,210.49V207.30M1839.70,213.50h9.5M1844.45,202.12V213.50M1839.70,221.50h9.5M1844.45,224.69V221.50M1869.95,193.50h9.5M1874.70,182.12V193.50M1869.95,201.50h9.5M1874.70,204.69V201.50M1920.38,192.20h9.5M1925.13,180.82V192.20M1920.38,200.20h9.5M1925.13,203.39V200.20M1950.63,196.00h9.5M1955.38,184.62V196.00M1950.63,204.00h9.5M1955.38,207.19V204.00" fill="none" stroke="#000" stroke-width="0.8"/>
<path d="M1244.68,395.30h9.5M1249.43,401.81V395.30M1244.68,422.70h9.5M1249.43,424.38V422.70M1254.77,274.50h9.5M1259.52,271.31V274.50M1254.77,282.50h9.5M1259.52,293.88V282.50M1264.86,216.90h9.5M1269.61,213.71V216.90M1264.86,224.90h9.5M1269.61,236.28V224.90M1285.02,258.60h9.5M1289.77,267.41V258.60M1285.02,290.60h9.5M1289.77,289.98V290.60M1295.11,249.50h9.5M1299.86,262.31V249.50M1295.11,289.50h9.5M1299.86,284.88V289.50M1315.28,251.40h9.5M1320.03,266.71V251.40M1315.28,296.40h9.5M1320.03,289.28V296.40M1345.53,243.80h9.5M1350.28,252.61V243.80M1345.53,275.80h9.5M1350.28,275.18V275.80M1365.70,256.50h9.5M1370.45,257.31V256.50M1365.70,272.50h9.5M1370.45,279.88V272.50M1385.88,305.90h9.5M1390.62,362.31V305.90M1385.88,433.10h9.5M1390.62,384.88V433.10M1395.96,325.00h9.5M1400.71,373.11V325.00M1395.96,435.60h9.5M1400.71,395.68V435.60M1416.13,312.60h9.5M1420.88,363.91V312.60M1416.13,429.60h9.5M1420.88,386.48V429.60M1436.30,325.40h9.5M1441.05,354.81V325.40M1436.30,398.60h9.5M1441.05,377.38V398.60M1456.47,297.20h9.5M1461.22,343.51V297.20M1456.47,404.20h9.5M1461.22,366.08V404.20M1506.89,266.60h9.5M1511.64,272.41V266.60M1506.89,292.60h9.5M1511.64,294.98V292.60M1527.07,247.80h9.5M1531.82,245.61V247.80M1527.07,257.80h9.5M1531.82,268.18V257.80M1557.32,223.80h9.5M1562.07,220.61V223.80M1557.32,231.80h9.5M1562.07,243.18V231.80M1587.57,234.60h9.5M1592.32,233.41V234.60M1587.57,246.60h9.5M1592.32,255.98V246.60M1627.91,237.60h9.5M1632.66,236.41V237.60M1627.91,249.60h9.5M1632.66,258.98V249.60M1658.17,239.80h9.5M1662.92,238.61V239.80M1658.17,251.80h9.5M1662.92,261.18V251.80M1688.42,237.60h9.5M1693.17,236.41V237.60M1688.42,249.60h9.5M1693.17,258.98V249.60M1718.68,231.30h9.5M1723.43,230.11V231.30M1718.68,243.30h9.5M1723.43,252.68V243.30M1748.93,227.60h9.5M1753.68,226.41V227.60M1748.93,239.60h9.5M1753.68,248.98V239.60M1809.44,206.80h9.5M1814.19,205.61V206.80M1809.44,218.80h9.5M1814.19,228.18V218.80M1839.70,226.40h9.5M1844.45,225.21V226.40M1839.70,238.40h9.5M1844.45,247.78V238.40M1869.95,198.80h9.5M1874.70,197.61V198.80M1869.95,210.80h9.5M1874.70,220.18V210.80M1920.38,205.50h9.5M1925.13,204.31V205.50M1920.38,217.50h9.5M1925.13,226.88V217.50M1950.63,212.30h9.5M1955.38,211.11V212.30M1950.63,224.30h9.5M1955.38,233.68V224.30" fill="none" stroke="#000" stroke-width="0.8"/>
</g>
<g clip-path="url(#clipC)">
<polyline points="236.59,880.40 266.84,875.50 297.10,875.50 337.44,875.00 357.61,875.90 387.86,880.40 418.12,880.50 448.37,880.50 498.80,880.50 529.05,881.40 579.48,880.90 629.90,881.00 680.33,880.80 720.66,881.50 801.35,881.70 841.69,881.70 871.94,881.70 912.28,881.70 942.54,881.70" fill="none" stroke="#000" stroke-width="0.95"/>
<rect x="226.09" y="869.90" width="21.0" height="21.0" fill="#000"/>
<rect x="256.34" y="865.00" width="21.0" height="21.0" fill="#000"/>
<rect x="286.60" y="865.00" width="21.0" height="21.0" fill="#000"/>
<rect x="326.94" y="864.50" width="21.0" height="21.0" fill="#000"/>
<rect x="347.11" y="865.40" width="21.0" height="21.0" fill="#000"/>
<rect x="377.36" y="869.90" width="21.0" height="21.0" fill="#000"/>
<rect x="407.62" y="870.00" width="21.0" height="21.0" fill="#000"/>
<rect x="437.87" y="870.00" width="21.0" height="21.0" fill="#000"/>
<rect x="488.30" y="870.00" width="21.0" height="21.0" fill="#000"/>
<rect x="518.55" y="870.90" width="21.0" height="21.0" fill="#000"/>
<rect x="568.98" y="870.40" width="21.0" height="21.0" fill="#000"/>
<rect x="619.40" y="870.50" width="21.0" height="21.0" fill="#000"/>
<rect x="669.83" y="870.30" width="21.0" height="21.0" fill="#000"/>
<rect x="710.16" y="871.00" width="21.0" height="21.0" fill="#000"/>
<rect x="790.85" y="871.20" width="21.0" height="21.0" fill="#000"/>
<rect x="831.19" y="871.20" width="21.0" height="21.0" fill="#000"/>
<rect x="861.44" y="871.20" width="21.0" height="21.0" fill="#000"/>
<rect x="901.78" y="871.20" width="21.0" height="21.0" fill="#000"/>
<rect x="932.04" y="871.20" width="21.0" height="21.0" fill="#000"/>
<polyline points="236.59,854.90 266.84,843.90 297.10,849.20 337.44,870.90 357.61,873.60 387.86,870.90 418.12,871.00 448.37,866.30 498.80,867.60 529.05,867.60 579.48,870.40 629.90,872.60 680.33,870.40 720.66,873.40 801.35,876.00 841.69,876.00 871.94,879.30 912.28,880.90 942.54,879.50" fill="none" stroke="#000" stroke-width="0.95"/>
<circle cx="236.59" cy="854.90" r="11.15" fill="#fff" stroke="#000" stroke-width="1.7"/>
<circle cx="266.84" cy="843.90" r="11.15" fill="#fff" stroke="#000" stroke-width="1.7"/>
<circle cx="297.10" cy="849.20" r="11.15" fill="#fff" stroke="#000" stroke-width="1.7"/>
<circle cx="337.44" cy="870.90" r="11.15" fill="#fff" stroke="#000" stroke-width="1.7"/>
<circle cx="357.61" cy="873.60" r="11.15" fill="#fff" stroke="#000" stroke-width="1.7"/>
<circle cx="387.86" cy="870.90" r="11.15" fill="#fff" stroke="#000" stroke-width="1.7"/>
<circle cx="418.12" cy="871.00" r="11.15" fill="#fff" stroke="#000" stroke-width="1.7"/>
<circle cx="448.37" cy="866.30" r="11.15" fill="#fff" stroke="#000" stroke-width="1.7"/>
<circle cx="498.80" cy="867.60" r="11.15" fill="#fff" stroke="#000" stroke-width="1.7"/>
<circle cx="529.05" cy="867.60" r="11.15" fill="#fff" stroke="#000" stroke-width="1.7"/>
<circle cx="579.48" cy="870.40" r="11.15" fill="#fff" stroke="#000" stroke-width="1.7"/>
<circle cx="629.90" cy="872.60" r="11.15" fill="#fff" stroke="#000" stroke-width="1.7"/>
<circle cx="680.33" cy="870.40" r="11.15" fill="#fff" stroke="#000" stroke-width="1.7"/>
<circle cx="720.66" cy="873.40" r="11.15" fill="#fff" stroke="#000" stroke-width="1.7"/>
<circle cx="801.35" cy="876.00" r="11.15" fill="#fff" stroke="#000" stroke-width="1.7"/>
<circle cx="841.69" cy="876.00" r="11.15" fill="#fff" stroke="#000" stroke-width="1.7"/>
<circle cx="871.94" cy="879.30" r="11.15" fill="#fff" stroke="#000" stroke-width="1.7"/>
<circle cx="912.28" cy="880.90" r="11.15" fill="#fff" stroke="#000" stroke-width="1.7"/>
<circle cx="942.54" cy="879.50" r="11.15" fill="#fff" stroke="#000" stroke-width="1.7"/>
<polyline points="236.59,767.80 266.84,760.90 297.10,774.00 337.44,831.20 357.61,835.00 387.86,844.30 418.12,856.50 448.37,864.70 498.80,867.60 529.05,868.20 579.48,839.80 629.90,841.00 680.33,842.00 720.66,847.90 801.35,841.20 841.69,835.00 871.94,842.20 912.28,852.50 942.54,842.50" fill="none" stroke="#000" stroke-width="0.95"/>
<polygon points="236.59,753.42 249.03,774.99 224.14,774.99" fill="#000" stroke="#000" stroke-width="1.9" stroke-linejoin="miter"/>
<polygon points="266.84,746.52 279.29,768.09 254.39,768.09" fill="#000" stroke="#000" stroke-width="1.9" stroke-linejoin="miter"/>
<polygon points="297.10,759.62 309.55,781.19 284.65,781.19" fill="#000" stroke="#000" stroke-width="1.9" stroke-linejoin="miter"/>
<polygon points="337.44,816.82 349.88,838.39 324.99,838.39" fill="#000" stroke="#000" stroke-width="1.9" stroke-linejoin="miter"/>
<polygon points="357.61,820.62 370.06,842.19 345.16,842.19" fill="#000" stroke="#000" stroke-width="1.9" stroke-linejoin="miter"/>
<polygon points="387.86,829.92 400.31,851.49 375.41,851.49" fill="#000" stroke="#000" stroke-width="1.9" stroke-linejoin="miter"/>
<polygon points="418.12,842.12 430.56,863.69 405.67,863.69" fill="#000" stroke="#000" stroke-width="1.9" stroke-linejoin="miter"/>
<polygon points="448.37,850.32 460.82,871.89 435.92,871.89" fill="#000" stroke="#000" stroke-width="1.9" stroke-linejoin="miter"/>
<polygon points="498.80,853.22 511.25,874.79 486.35,874.79" fill="#000" stroke="#000" stroke-width="1.9" stroke-linejoin="miter"/>
<polygon points="529.05,853.82 541.50,875.39 516.60,875.39" fill="#000" stroke="#000" stroke-width="1.9" stroke-linejoin="miter"/>
<polygon points="579.48,825.42 591.93,846.99 567.02,846.99" fill="#000" stroke="#000" stroke-width="1.9" stroke-linejoin="miter"/>
<polygon points="629.90,826.62 642.35,848.19 617.45,848.19" fill="#000" stroke="#000" stroke-width="1.9" stroke-linejoin="miter"/>
<polygon points="680.33,827.62 692.78,849.19 667.88,849.19" fill="#000" stroke="#000" stroke-width="1.9" stroke-linejoin="miter"/>
<polygon points="720.66,833.52 733.12,855.09 708.21,855.09" fill="#000" stroke="#000" stroke-width="1.9" stroke-linejoin="miter"/>
<polygon points="801.35,826.82 813.80,848.39 788.89,848.39" fill="#000" stroke="#000" stroke-width="1.9" stroke-linejoin="miter"/>
<polygon points="841.69,820.62 854.14,842.19 829.24,842.19" fill="#000" stroke="#000" stroke-width="1.9" stroke-linejoin="miter"/>
<polygon points="871.94,827.82 884.39,849.39 859.49,849.39" fill="#000" stroke="#000" stroke-width="1.9" stroke-linejoin="miter"/>
<polygon points="912.28,838.12 924.73,859.69 899.83,859.69" fill="#000" stroke="#000" stroke-width="1.9" stroke-linejoin="miter"/>
<polygon points="942.54,828.12 954.99,849.69 930.09,849.69" fill="#000" stroke="#000" stroke-width="1.9" stroke-linejoin="miter"/>
<polyline points="236.59,531.80 266.84,498.40 297.10,541.20 337.44,567.90 357.61,607.00 387.86,635.40 418.12,688.70 448.37,755.80 498.80,797.10 529.05,819.90 579.48,825.90 629.90,831.50 680.33,839.20 720.66,841.20 801.35,854.50 841.69,851.10 871.94,856.50 912.28,857.50 942.54,847.80" fill="none" stroke="#000" stroke-width="0.95"/>
<polygon points="236.59,546.18 249.03,524.61 224.14,524.61" fill="#fff" stroke="#000" stroke-width="1.9" stroke-linejoin="miter"/>
<polygon points="266.84,512.78 279.29,491.21 254.39,491.21" fill="#fff" stroke="#000" stroke-width="1.9" stroke-linejoin="miter"/>
<polygon points="297.10,555.58 309.55,534.01 284.65,534.01" fill="#fff" stroke="#000" stroke-width="1.9" stroke-linejoin="miter"/>
<polygon points="337.44,582.28 349.88,560.71 324.99,560.71" fill="#fff" stroke="#000" stroke-width="1.9" stroke-linejoin="miter"/>
<polygon points="357.61,621.38 370.06,599.81 345.16,599.81" fill="#fff" stroke="#000" stroke-width="1.9" stroke-linejoin="miter"/>
<polygon points="387.86,649.78 400.31,628.21 375.41,628.21" fill="#fff" stroke="#000" stroke-width="1.9" stroke-linejoin="miter"/>
<polygon points="418.12,703.08 430.56,681.51 405.67,681.51" fill="#fff" stroke="#000" stroke-width="1.9" stroke-linejoin="miter"/>
<polygon points="448.37,770.18 460.82,748.61 435.92,748.61" fill="#fff" stroke="#000" stroke-width="1.9" stroke-linejoin="miter"/>
<polygon points="498.80,811.48 511.25,789.91 486.35,789.91" fill="#fff" stroke="#000" stroke-width="1.9" stroke-linejoin="miter"/>
<polygon points="529.05,834.28 541.50,812.71 516.60,812.71" fill="#fff" stroke="#000" stroke-width="1.9" stroke-linejoin="miter"/>
<polygon points="579.48,840.28 591.93,818.71 567.02,818.71" fill="#fff" stroke="#000" stroke-width="1.9" stroke-linejoin="miter"/>
<polygon points="629.90,845.88 642.35,824.31 617.45,824.31" fill="#fff" stroke="#000" stroke-width="1.9" stroke-linejoin="miter"/>
<polygon points="680.33,853.58 692.78,832.01 667.88,832.01" fill="#fff" stroke="#000" stroke-width="1.9" stroke-linejoin="miter"/>
<polygon points="720.66,855.58 733.12,834.01 708.21,834.01" fill="#fff" stroke="#000" stroke-width="1.9" stroke-linejoin="miter"/>
<polygon points="801.35,868.88 813.80,847.31 788.89,847.31" fill="#fff" stroke="#000" stroke-width="1.9" stroke-linejoin="miter"/>
<polygon points="841.69,865.48 854.14,843.91 829.24,843.91" fill="#fff" stroke="#000" stroke-width="1.9" stroke-linejoin="miter"/>
<polygon points="871.94,870.88 884.39,849.31 859.49,849.31" fill="#fff" stroke="#000" stroke-width="1.9" stroke-linejoin="miter"/>
<polygon points="912.28,871.88 924.73,850.31 899.83,850.31" fill="#fff" stroke="#000" stroke-width="1.9" stroke-linejoin="miter"/>
<polygon points="942.54,862.18 954.99,840.61 930.09,840.61" fill="#fff" stroke="#000" stroke-width="1.9" stroke-linejoin="miter"/>
<path d="M332.69,873.00h9.5M337.44,864.50V873.00M332.69,877.00h9.5M337.44,885.50V877.00M352.86,873.90h9.5M357.61,865.40V873.90M352.86,877.90h9.5M357.61,886.40V877.90M383.11,878.40h9.5M387.86,869.90V878.40M383.11,882.40h9.5M387.86,890.90V882.40M413.37,878.50h9.5M418.12,870.00V878.50M413.37,882.50h9.5M418.12,891.00V882.50M574.73,877.90h9.5M579.48,870.40V877.90M574.73,883.90h9.5M579.48,891.40V883.90M625.15,878.00h9.5M629.90,870.50V878.00M625.15,884.00h9.5M629.90,891.50V884.00M675.58,877.80h9.5M680.33,870.30V877.80M675.58,883.80h9.5M680.33,891.30V883.80M715.91,878.50h9.5M720.66,871.00V878.50M715.91,884.50h9.5M720.66,892.00V884.50M796.60,879.70h9.5M801.35,871.20V879.70M796.60,883.70h9.5M801.35,892.20V883.70M836.94,879.70h9.5M841.69,871.20V879.70M836.94,883.70h9.5M841.69,892.20V883.70M867.19,879.70h9.5M871.94,871.20V879.70M867.19,883.70h9.5M871.94,892.20V883.70M907.53,880.70h9.5M912.28,871.20V880.70M907.53,882.70h9.5M912.28,892.20V882.70M937.79,880.70h9.5M942.54,871.20V880.70M937.79,882.70h9.5M942.54,892.20V882.70" fill="none" stroke="#000" stroke-width="0.8"/>
<path d="M231.84,853.90h9.5M236.59,843.75V853.90M231.84,855.90h9.5M236.59,866.05V855.90M262.09,842.90h9.5M266.84,832.75V842.90M262.09,844.90h9.5M266.84,855.05V844.90M292.35,847.50h9.5M297.10,838.05V847.50M292.35,850.90h9.5M297.10,860.35V850.90M332.69,865.90h9.5M337.44,859.75V865.90M332.69,875.90h9.5M337.44,882.05V875.90M352.86,869.60h9.5M357.61,862.45V869.60M352.86,877.60h9.5M357.61,884.75V877.60M383.11,864.90h9.5M387.86,859.75V864.90M383.11,876.90h9.5M387.86,882.05V876.90M413.37,867.00h9.5M418.12,859.85V867.00M413.37,875.00h9.5M418.12,882.15V875.00M443.62,863.30h9.5M448.37,855.15V863.30M443.62,869.30h9.5M448.37,877.45V869.30M494.05,864.60h9.5M498.80,856.45V864.60M494.05,870.60h9.5M498.80,878.75V870.60M524.30,864.60h9.5M529.05,856.45V864.60M524.30,870.60h9.5M529.05,878.75V870.60M574.73,866.40h9.5M579.48,859.25V866.40M574.73,874.40h9.5M579.48,881.55V874.40M625.15,867.60h9.5M629.90,861.45V867.60M625.15,877.60h9.5M629.90,883.75V877.60M675.58,865.40h9.5M680.33,859.25V865.40M675.58,875.40h9.5M680.33,881.55V875.40M715.91,870.40h9.5M720.66,862.25V870.40M715.91,876.40h9.5M720.66,884.55V876.40M796.60,872.00h9.5M801.35,864.85V872.00M796.60,880.00h9.5M801.35,887.15V880.00M836.94,872.00h9.5M841.69,864.85V872.00M836.94,880.00h9.5M841.69,887.15V880.00M867.19,876.30h9.5M871.94,868.15V876.30M867.19,882.30h9.5M871.94,890.45V882.30M907.53,878.90h9.5M912.28,869.75V878.90M907.53,882.90h9.5M912.28,892.05V882.90M937.79,877.50h9.5M942.54,868.35V877.50M937.79,881.50h9.5M942.54,890.65V881.50" fill="none" stroke="#000" stroke-width="0.8"/>
<path d="M332.69,818.20h9.5M337.44,815.82V818.20M332.69,844.20h9.5M337.44,838.39V844.20M352.86,823.50h9.5M357.61,819.62V823.50M352.86,846.50h9.5M357.61,842.19V846.50M383.11,832.60h9.5M387.86,828.92V832.60M383.11,856.00h9.5M387.86,851.49V856.00M413.37,848.50h9.5M418.12,841.12V848.50M413.37,864.50h9.5M418.12,863.69V864.50M443.62,859.70h9.5M448.37,849.32V859.70M443.62,869.70h9.5M448.37,871.89V869.70M494.05,863.60h9.5M498.80,852.22V863.60M494.05,871.60h9.5M498.80,874.79V871.60M524.30,864.20h9.5M529.05,852.82V864.20M524.30,872.20h9.5M529.05,875.39V872.20M574.73,831.80h9.5M579.48,824.42V831.80M574.73,847.80h9.5M579.48,846.99V847.80M625.15,824.00h9.5M629.90,825.62V824.00M625.15,858.00h9.5M629.90,848.19V858.00M675.58,832.00h9.5M680.33,826.62V832.00M675.58,852.00h9.5M680.33,849.19V852.00M715.91,839.90h9.5M720.66,832.52V839.90M715.91,855.90h9.5M720.66,855.09V855.90M796.60,836.20h9.5M801.35,825.82V836.20M796.60,846.20h9.5M801.35,848.39V846.20M836.94,830.00h9.5M841.69,819.62V830.00M836.94,840.00h9.5M841.69,842.19V840.00M867.19,837.20h9.5M871.94,826.82V837.20M867.19,847.20h9.5M871.94,849.39V847.20M907.53,847.50h9.5M912.28,837.12V847.50M907.53,857.50h9.5M912.28,859.69V857.50M937.79,834.50h9.5M942.54,827.12V834.50M937.79,850.50h9.5M942.54,849.69V850.50" fill="none" stroke="#000" stroke-width="0.8"/>
<path d="M231.84,531.20h9.5M236.59,524.61V531.20M231.84,532.40h9.5M236.59,547.18V532.40M262.09,495.40h9.5M266.84,491.21V495.40M262.09,501.40h9.5M266.84,513.78V501.40M332.69,593.90h9.5M337.44,583.28V593.90M352.86,585.20h9.5M357.61,599.81V585.20M352.86,628.80h9.5M357.61,622.38V628.80M383.11,607.50h9.5M387.86,628.21V607.50M383.11,663.30h9.5M387.86,650.78V663.30M413.37,667.30h9.5M418.12,681.51V667.30M413.37,710.10h9.5M418.12,704.08V710.10M443.62,749.80h9.5M448.37,748.61V749.80M443.62,761.80h9.5M448.37,771.18V761.80M494.05,785.60h9.5M498.80,789.91V785.60M494.05,808.60h9.5M498.80,812.48V808.60M524.30,810.40h9.5M529.05,812.71V810.40M524.30,829.40h9.5M529.05,835.28V829.40M574.73,816.20h9.5M579.48,818.71V816.20M574.73,835.60h9.5M579.48,841.28V835.60M625.15,823.50h9.5M629.90,824.31V823.50M625.15,839.50h9.5M629.90,846.88V839.50M675.58,809.20h9.5M680.33,832.01V809.20M675.58,869.20h9.5M680.33,854.58V869.20M715.91,820.20h9.5M720.66,834.01V820.20M715.91,862.20h9.5M720.66,856.58V862.20M796.60,847.50h9.5M801.35,847.31V847.50M796.60,861.50h9.5M801.35,869.88V861.50M836.94,845.10h9.5M841.69,843.91V845.10M836.94,857.10h9.5M841.69,866.48V857.10M867.19,850.50h9.5M871.94,849.31V850.50M867.19,862.50h9.5M871.94,871.88V862.50M907.53,849.50h9.5M912.28,850.31V849.50M907.53,865.50h9.5M912.28,872.88V865.50M937.79,826.80h9.5M942.54,840.61V826.80M937.79,868.80h9.5M942.54,863.18V868.80" fill="none" stroke="#000" stroke-width="0.8"/>
</g>
<g clip-path="url(#clipD)">
<polyline points="1239.35,882.10 1330.12,882.00 1420.88,883.20 1511.64,883.20 1602.41,883.20 1693.17,883.20 1814.19,883.20 1955.38,884.20" fill="none" stroke="#000" stroke-width="0.95"/>
<rect x="1228.85" y="871.60" width="21.0" height="21.0" fill="#000"/>
<rect x="1319.62" y="871.50" width="21.0" height="21.0" fill="#000"/>
<rect x="1410.38" y="872.70" width="21.0" height="21.0" fill="#000"/>
<rect x="1501.14" y="872.70" width="21.0" height="21.0" fill="#000"/>
<rect x="1591.91" y="872.70" width="21.0" height="21.0" fill="#000"/>
<rect x="1682.67" y="872.70" width="21.0" height="21.0" fill="#000"/>
<rect x="1803.69" y="872.70" width="21.0" height="21.0" fill="#000"/>
<rect x="1944.88" y="873.70" width="21.0" height="21.0" fill="#000"/>
<polyline points="1239.35,866.70 1330.12,879.00 1420.88,877.00 1511.64,880.00 1602.41,880.00 1693.17,881.00 1814.19,882.00 1955.38,883.30" fill="none" stroke="#000" stroke-width="0.95"/>
<circle cx="1239.35" cy="866.70" r="11.15" fill="#fff" stroke="#000" stroke-width="1.7"/>
<circle cx="1330.12" cy="879.00" r="11.15" fill="#fff" stroke="#000" stroke-width="1.7"/>
<circle cx="1420.88" cy="877.00" r="11.15" fill="#fff" stroke="#000" stroke-width="1.7"/>
<circle cx="1511.64" cy="880.00" r="11.15" fill="#fff" stroke="#000" stroke-width="1.7"/>
<circle cx="1602.41" cy="880.00" r="11.15" fill="#fff" stroke="#000" stroke-width="1.7"/>
<circle cx="1693.17" cy="881.00" r="11.15" fill="#fff" stroke="#000" stroke-width="1.7"/>
<circle cx="1814.19" cy="882.00" r="11.15" fill="#fff" stroke="#000" stroke-width="1.7"/>
<circle cx="1955.38" cy="883.30" r="11.15" fill="#fff" stroke="#000" stroke-width="1.7"/>
<polyline points="1239.35,795.50 1330.12,869.10 1420.88,879.40 1511.64,883.40 1602.41,883.40 1693.17,884.00 1814.19,884.60 1955.38,881.80" fill="none" stroke="#000" stroke-width="0.95"/>
<polygon points="1239.35,781.12 1251.80,802.69 1226.90,802.69" fill="#000" stroke="#000" stroke-width="1.9" stroke-linejoin="miter"/>
<polygon points="1330.12,854.72 1342.57,876.29 1317.66,876.29" fill="#000" stroke="#000" stroke-width="1.9" stroke-linejoin="miter"/>
<polygon points="1420.88,865.02 1433.33,886.59 1408.43,886.59" fill="#000" stroke="#000" stroke-width="1.9" stroke-linejoin="miter"/>
<polygon points="1511.64,869.02 1524.10,890.59 1499.19,890.59" fill="#000" stroke="#000" stroke-width="1.9" stroke-linejoin="miter"/>
<polygon points="1602.41,869.02 1614.86,890.59 1589.96,890.59" fill="#000" stroke="#000" stroke-width="1.9" stroke-linejoin="miter"/>
<polygon points="1693.17,869.62 1705.62,891.19 1680.72,891.19" fill="#000" stroke="#000" stroke-width="1.9" stroke-linejoin="miter"/>
<polygon points="1814.19,870.22 1826.64,891.79 1801.74,891.79" fill="#000" stroke="#000" stroke-width="1.9" stroke-linejoin="miter"/>
<polygon points="1955.38,867.42 1967.84,888.99 1942.93,888.99" fill="#000" stroke="#000" stroke-width="1.9" stroke-linejoin="miter"/>
<polyline points="1239.35,502.50 1330.12,736.10 1420.88,859.00 1511.64,864.90 1602.41,863.40 1693.17,866.00 1814.19,874.30 1955.38,863.40" fill="none" stroke="#000" stroke-width="0.95"/>
<polygon points="1239.35,516.88 1251.80,495.31 1226.90,495.31" fill="#fff" stroke="#000" stroke-width="1.9" stroke-linejoin="miter"/>
<polygon points="1330.12,750.48 1342.57,728.91 1317.66,728.91" fill="#fff" stroke="#000" stroke-width="1.9" stroke-linejoin="miter"/>
<polygon points="1420.88,873.38 1433.33,851.81 1408.43,851.81" fill="#fff" stroke="#000" stroke-width="1.9" stroke-linejoin="miter"/>
<polygon points="1511.64,879.28 1524.10,857.71 1499.19,857.71" fill="#fff" stroke="#000" stroke-width="1.9" stroke-linejoin="miter"/>
<polygon points="1602.41,877.78 1614.86,856.21 1589.96,856.21" fill="#fff" stroke="#000" stroke-width="1.9" stroke-linejoin="miter"/>
<polygon points="1693.17,880.38 1705.62,858.81 1680.72,858.81" fill="#fff" stroke="#000" stroke-width="1.9" stroke-linejoin="miter"/>
<polygon points="1814.19,888.68 1826.64,867.11 1801.74,867.11" fill="#fff" stroke="#000" stroke-width="1.9" stroke-linejoin="miter"/>
<polygon points="1955.38,877.78 1967.84,856.21 1942.93,856.21" fill="#fff" stroke="#000" stroke-width="1.9" stroke-linejoin="miter"/>
<path d="M1325.37,875.00h9.5M1330.12,867.85V875.00M1325.37,883.00h9.5M1330.12,890.15V883.00M1416.13,875.00h9.5M1420.88,865.85V875.00M1416.13,879.00h9.5M1420.88,888.15V879.00M1506.89,878.00h9.5M1511.64,868.85V878.00M1506.89,882.00h9.5M1511.64,891.15V882.00M1597.66,878.00h9.5M1602.41,868.85V878.00M1597.66,882.00h9.5M1602.41,891.15V882.00M1688.42,879.00h9.5M1693.17,869.85V879.00M1688.42,883.00h9.5M1693.17,892.15V883.00M1809.44,880.00h9.5M1814.19,870.85V880.00M1809.44,884.00h9.5M1814.19,893.15V884.00M1950.63,881.30h9.5M1955.38,872.15V881.30M1950.63,885.30h9.5M1955.38,894.45V885.30" fill="none" stroke="#000" stroke-width="0.8"/>
<path d="M1416.13,877.40h9.5M1420.88,864.02V877.40M1416.13,881.40h9.5M1420.88,886.59V881.40M1506.89,881.40h9.5M1511.64,868.02V881.40M1506.89,885.40h9.5M1511.64,890.59V885.40M1597.66,881.40h9.5M1602.41,868.02V881.40M1597.66,885.40h9.5M1602.41,890.59V885.40M1688.42,882.00h9.5M1693.17,868.62V882.00M1688.42,886.00h9.5M1693.17,891.19V886.00M1809.44,882.60h9.5M1814.19,869.22V882.60M1809.44,886.60h9.5M1814.19,891.79V886.60M1950.63,879.80h9.5M1955.38,866.42V879.80M1950.63,883.80h9.5M1955.38,888.99V883.80" fill="none" stroke="#000" stroke-width="0.8"/>
<path d="M1325.37,704.40h9.5M1330.12,728.91V704.40M1325.37,767.80h9.5M1330.12,751.48V767.80M1416.13,854.00h9.5M1420.88,851.81V854.00M1416.13,864.00h9.5M1420.88,874.38V864.00M1506.89,861.90h9.5M1511.64,857.71V861.90M1506.89,867.90h9.5M1511.64,880.28V867.90M1597.66,858.40h9.5M1602.41,856.21V858.40M1597.66,868.40h9.5M1602.41,878.78V868.40M1688.42,862.00h9.5M1693.17,858.81V862.00M1688.42,870.00h9.5M1693.17,881.38V870.00M1809.44,870.30h9.5M1814.19,867.11V870.30M1809.44,878.30h9.5M1814.19,889.68V878.30M1950.63,849.10h9.5M1955.38,856.21V849.10M1950.63,877.70h9.5M1955.38,878.78V877.70" fill="none" stroke="#000" stroke-width="0.8"/>
</g>
<line x1="185.40" y1="18.30" x2="983.40" y2="18.30" stroke="#000" stroke-width="2.0" />
<line x1="185.40" y1="463.00" x2="983.40" y2="463.00" stroke="#000" stroke-width="2.0" />
<line x1="185.40" y1="907.40" x2="983.40" y2="907.40" stroke="#000" stroke-width="2.0" />
<line x1="186.40" y1="18.30" x2="186.40" y2="547.80" stroke="#000" stroke-width="2.0" />
<line x1="186.40" y1="556.20" x2="186.40" y2="907.40" stroke="#000" stroke-width="2.0" />
<line x1="176.90" y1="552.20" x2="195.90" y2="544.60" stroke="#000" stroke-width="2.0" />
<line x1="176.90" y1="560.20" x2="195.90" y2="552.60" stroke="#000" stroke-width="2.0" />
<line x1="982.40" y1="18.30" x2="982.40" y2="547.80" stroke="#000" stroke-width="2.0" />
<line x1="982.40" y1="556.20" x2="982.40" y2="907.40" stroke="#000" stroke-width="2.0" />
<line x1="972.90" y1="552.20" x2="991.90" y2="544.60" stroke="#000" stroke-width="2.0" />
<line x1="972.90" y1="560.20" x2="991.90" y2="552.60" stroke="#000" stroke-width="2.0" />
<line x1="1198.50" y1="18.30" x2="1996.70" y2="18.30" stroke="#000" stroke-width="2.0" />
<line x1="1198.50" y1="463.00" x2="1996.70" y2="463.00" stroke="#000" stroke-width="2.0" />
<line x1="1198.50" y1="907.40" x2="1996.70" y2="907.40" stroke="#000" stroke-width="2.0" />
<line x1="1199.50" y1="18.30" x2="1199.50" y2="682.40" stroke="#000" stroke-width="2.0" />
<line x1="1199.50" y1="689.20" x2="1199.50" y2="907.40" stroke="#000" stroke-width="2.0" />
<line x1="1190.00" y1="686.00" x2="1209.00" y2="678.40" stroke="#000" stroke-width="2.0" />
<line x1="1190.00" y1="694.00" x2="1209.00" y2="686.40" stroke="#000" stroke-width="2.0" />
<line x1="1995.70" y1="18.30" x2="1995.70" y2="682.40" stroke="#000" stroke-width="2.0" />
<line x1="1995.70" y1="689.20" x2="1995.70" y2="907.40" stroke="#000" stroke-width="2.0" />
<line x1="1986.20" y1="686.00" x2="2005.20" y2="678.40" stroke="#000" stroke-width="2.0" />
<line x1="1986.20" y1="694.00" x2="2005.20" y2="686.40" stroke="#000" stroke-width="2.0" />
<line x1="226.50" y1="454.00" x2="226.50" y2="472.50" stroke="#000" stroke-width="2.0" />
<line x1="226.50" y1="897.90" x2="226.50" y2="907.40" stroke="#000" stroke-width="2.0" />
<text transform="translate(226.50,947.80) scale(1,1.03)" font-size="37.6" text-anchor="middle" font-family='"Liberation Sans", sans-serif' >0</text>
<line x1="327.35" y1="454.00" x2="327.35" y2="472.50" stroke="#000" stroke-width="2.0" />
<line x1="327.35" y1="897.90" x2="327.35" y2="907.40" stroke="#000" stroke-width="2.0" />
<text transform="translate(327.35,947.80) scale(1,1.03)" font-size="37.6" text-anchor="middle" font-family='"Liberation Sans", sans-serif' >10</text>
<line x1="428.20" y1="454.00" x2="428.20" y2="472.50" stroke="#000" stroke-width="2.0" />
<line x1="428.20" y1="897.90" x2="428.20" y2="907.40" stroke="#000" stroke-width="2.0" />
<text transform="translate(428.20,947.80) scale(1,1.03)" font-size="37.6" text-anchor="middle" font-family='"Liberation Sans", sans-serif' >20</text>
<line x1="529.05" y1="454.00" x2="529.05" y2="472.50" stroke="#000" stroke-width="2.0" />
<line x1="529.05" y1="897.90" x2="529.05" y2="907.40" stroke="#000" stroke-width="2.0" />
<text transform="translate(529.05,947.80) scale(1,1.03)" font-size="37.6" text-anchor="middle" font-family='"Liberation Sans", sans-serif' >30</text>
<line x1="629.90" y1="454.00" x2="629.90" y2="472.50" stroke="#000" stroke-width="2.0" />
<line x1="629.90" y1="897.90" x2="629.90" y2="907.40" stroke="#000" stroke-width="2.0" />
<text transform="translate(629.90,947.80) scale(1,1.03)" font-size="37.6" text-anchor="middle" font-family='"Liberation Sans", sans-serif' >40</text>
<line x1="730.75" y1="454.00" x2="730.75" y2="472.50" stroke="#000" stroke-width="2.0" />
<line x1="730.75" y1="897.90" x2="730.75" y2="907.40" stroke="#000" stroke-width="2.0" />
<text transform="translate(730.75,947.80) scale(1,1.03)" font-size="37.6" text-anchor="middle" font-family='"Liberation Sans", sans-serif' >50</text>
<line x1="831.60" y1="454.00" x2="831.60" y2="472.50" stroke="#000" stroke-width="2.0" />
<line x1="831.60" y1="897.90" x2="831.60" y2="907.40" stroke="#000" stroke-width="2.0" />
<text transform="translate(831.60,947.80) scale(1,1.03)" font-size="37.6" text-anchor="middle" font-family='"Liberation Sans", sans-serif' >60</text>
<line x1="932.45" y1="454.00" x2="932.45" y2="472.50" stroke="#000" stroke-width="2.0" />
<line x1="932.45" y1="897.90" x2="932.45" y2="907.40" stroke="#000" stroke-width="2.0" />
<text transform="translate(932.45,947.80) scale(1,1.03)" font-size="37.6" text-anchor="middle" font-family='"Liberation Sans", sans-serif' >70</text>
<line x1="1239.35" y1="454.00" x2="1239.35" y2="472.50" stroke="#000" stroke-width="2.0" />
<line x1="1239.35" y1="897.90" x2="1239.35" y2="907.40" stroke="#000" stroke-width="2.0" />
<text transform="translate(1239.35,954.00) scale(1,1.03)" font-size="37.6" text-anchor="middle" font-family='"Liberation Sans", sans-serif' >0</text>
<line x1="1340.20" y1="454.00" x2="1340.20" y2="472.50" stroke="#000" stroke-width="2.0" />
<line x1="1340.20" y1="897.90" x2="1340.20" y2="907.40" stroke="#000" stroke-width="2.0" />
<text transform="translate(1340.20,954.00) scale(1,1.03)" font-size="37.6" text-anchor="middle" font-family='"Liberation Sans", sans-serif' >10</text>
<line x1="1441.05" y1="454.00" x2="1441.05" y2="472.50" stroke="#000" stroke-width="2.0" />
<line x1="1441.05" y1="897.90" x2="1441.05" y2="907.40" stroke="#000" stroke-width="2.0" />
<text transform="translate(1441.05,954.00) scale(1,1.03)" font-size="37.6" text-anchor="middle" font-family='"Liberation Sans", sans-serif' >20</text>
<line x1="1541.90" y1="454.00" x2="1541.90" y2="472.50" stroke="#000" stroke-width="2.0" />
<line x1="1541.90" y1="897.90" x2="1541.90" y2="907.40" stroke="#000" stroke-width="2.0" />
<text transform="translate(1541.90,954.00) scale(1,1.03)" font-size="37.6" text-anchor="middle" font-family='"Liberation Sans", sans-serif' >30</text>
<line x1="1642.75" y1="454.00" x2="1642.75" y2="472.50" stroke="#000" stroke-width="2.0" />
<line x1="1642.75" y1="897.90" x2="1642.75" y2="907.40" stroke="#000" stroke-width="2.0" />
<text transform="translate(1642.75,954.00) scale(1,1.03)" font-size="37.6" text-anchor="middle" font-family='"Liberation Sans", sans-serif' >40</text>
<line x1="1743.60" y1="454.00" x2="1743.60" y2="472.50" stroke="#000" stroke-width="2.0" />
<line x1="1743.60" y1="897.90" x2="1743.60" y2="907.40" stroke="#000" stroke-width="2.0" />
<text transform="translate(1743.60,954.00) scale(1,1.03)" font-size="37.6" text-anchor="middle" font-family='"Liberation Sans", sans-serif' >50</text>
<line x1="1844.45" y1="454.00" x2="1844.45" y2="472.50" stroke="#000" stroke-width="2.0" />
<line x1="1844.45" y1="897.90" x2="1844.45" y2="907.40" stroke="#000" stroke-width="2.0" />
<text transform="translate(1844.45,954.00) scale(1,1.03)" font-size="37.6" text-anchor="middle" font-family='"Liberation Sans", sans-serif' >60</text>
<line x1="1945.30" y1="454.00" x2="1945.30" y2="472.50" stroke="#000" stroke-width="2.0" />
<line x1="1945.30" y1="897.90" x2="1945.30" y2="907.40" stroke="#000" stroke-width="2.0" />
<text transform="translate(1945.30,954.00) scale(1,1.03)" font-size="37.6" text-anchor="middle" font-family='"Liberation Sans", sans-serif' >70</text>
<text transform="translate(175.50,474.40) scale(1,1.03)" font-size="37.6" text-anchor="end" font-family='"Liberation Sans", sans-serif' >18</text>
<line x1="186.40" y1="418.53" x2="195.70" y2="418.53" stroke="#000" stroke-width="2.0" />
<text transform="translate(175.50,429.93) scale(1,1.03)" font-size="37.6" text-anchor="end" font-family='"Liberation Sans", sans-serif' >20</text>
<line x1="186.40" y1="374.06" x2="195.70" y2="374.06" stroke="#000" stroke-width="2.0" />
<text transform="translate(175.50,385.46) scale(1,1.03)" font-size="37.6" text-anchor="end" font-family='"Liberation Sans", sans-serif' >22</text>
<line x1="186.40" y1="329.59" x2="195.70" y2="329.59" stroke="#000" stroke-width="2.0" />
<text transform="translate(175.50,340.99) scale(1,1.03)" font-size="37.6" text-anchor="end" font-family='"Liberation Sans", sans-serif' >24</text>
<line x1="186.40" y1="285.12" x2="195.70" y2="285.12" stroke="#000" stroke-width="2.0" />
<text transform="translate(175.50,296.52) scale(1,1.03)" font-size="37.6" text-anchor="end" font-family='"Liberation Sans", sans-serif' >26</text>
<line x1="186.40" y1="240.65" x2="195.70" y2="240.65" stroke="#000" stroke-width="2.0" />
<text transform="translate(175.50,252.05) scale(1,1.03)" font-size="37.6" text-anchor="end" font-family='"Liberation Sans", sans-serif' >28</text>
<line x1="186.40" y1="196.18" x2="195.70" y2="196.18" stroke="#000" stroke-width="2.0" />
<text transform="translate(175.50,207.58) scale(1,1.03)" font-size="37.6" text-anchor="end" font-family='"Liberation Sans", sans-serif' >30</text>
<line x1="186.40" y1="151.71" x2="195.70" y2="151.71" stroke="#000" stroke-width="2.0" />
<text transform="translate(175.50,163.11) scale(1,1.03)" font-size="37.6" text-anchor="end" font-family='"Liberation Sans", sans-serif' >32</text>
<line x1="186.40" y1="107.24" x2="195.70" y2="107.24" stroke="#000" stroke-width="2.0" />
<text transform="translate(175.50,118.64) scale(1,1.03)" font-size="37.6" text-anchor="end" font-family='"Liberation Sans", sans-serif' >34</text>
<line x1="186.40" y1="62.77" x2="195.70" y2="62.77" stroke="#000" stroke-width="2.0" />
<text transform="translate(175.50,74.17) scale(1,1.03)" font-size="37.6" text-anchor="end" font-family='"Liberation Sans", sans-serif' >36</text>
<text transform="translate(175.50,29.70) scale(1,1.03)" font-size="37.6" text-anchor="end" font-family='"Liberation Sans", sans-serif' >38</text>
<line x1="1199.50" y1="433.30" x2="1211.20" y2="433.30" stroke="#000" stroke-width="2.0" />
<text transform="translate(1186.00,445.20) scale(1,1.03)" font-size="37.6" text-anchor="end" font-family='"Liberation Sans", sans-serif' >0</text>
<line x1="1199.50" y1="373.94" x2="1211.20" y2="373.94" stroke="#000" stroke-width="2.0" />
<text transform="translate(1186.00,385.84) scale(1,1.03)" font-size="37.6" text-anchor="end" font-family='"Liberation Sans", sans-serif' >2</text>
<line x1="1199.50" y1="314.58" x2="1211.20" y2="314.58" stroke="#000" stroke-width="2.0" />
<text transform="translate(1186.00,326.48) scale(1,1.03)" font-size="37.6" text-anchor="end" font-family='"Liberation Sans", sans-serif' >4</text>
<line x1="1199.50" y1="255.22" x2="1211.20" y2="255.22" stroke="#000" stroke-width="2.0" />
<text transform="translate(1186.00,267.12) scale(1,1.03)" font-size="37.6" text-anchor="end" font-family='"Liberation Sans", sans-serif' >6</text>
<line x1="1199.50" y1="195.86" x2="1211.20" y2="195.86" stroke="#000" stroke-width="2.0" />
<text transform="translate(1186.00,207.76) scale(1,1.03)" font-size="37.6" text-anchor="end" font-family='"Liberation Sans", sans-serif' >8</text>
<line x1="1199.50" y1="136.50" x2="1211.20" y2="136.50" stroke="#000" stroke-width="2.0" />
<text transform="translate(1186.00,148.40) scale(1,1.03)" font-size="37.6" text-anchor="end" font-family='"Liberation Sans", sans-serif' >10</text>
<line x1="1199.50" y1="77.14" x2="1211.20" y2="77.14" stroke="#000" stroke-width="2.0" />
<text transform="translate(1186.00,89.04) scale(1,1.03)" font-size="37.6" text-anchor="end" font-family='"Liberation Sans", sans-serif' >12</text>
<text transform="translate(1186.00,29.68) scale(1,1.03)" font-size="37.6" text-anchor="end" font-family='"Liberation Sans", sans-serif' >14</text>
<line x1="186.40" y1="489.20" x2="195.90" y2="489.20" stroke="#000" stroke-width="2.0" />
<text transform="translate(154.50,497.00) scale(1,1.03)" font-size="37.6" text-anchor="end" font-family='"Liberation Sans", sans-serif' >30000</text>
<line x1="186.40" y1="529.30" x2="195.90" y2="529.30" stroke="#000" stroke-width="2.0" />
<text transform="translate(154.50,537.10) scale(1,1.03)" font-size="37.6" text-anchor="end" font-family='"Liberation Sans", sans-serif' >15000</text>
<line x1="186.40" y1="882.90" x2="195.90" y2="882.90" stroke="#000" stroke-width="2.0" />
<text transform="translate(154.50,890.70) scale(1,1.03)" font-size="37.6" text-anchor="end" font-family='"Liberation Sans", sans-serif' >0</text>
<line x1="186.40" y1="842.03" x2="195.90" y2="842.03" stroke="#000" stroke-width="2.0" />
<text transform="translate(154.50,849.83) scale(1,1.03)" font-size="37.6" text-anchor="end" font-family='"Liberation Sans", sans-serif' >500</text>
<line x1="186.40" y1="801.16" x2="195.90" y2="801.16" stroke="#000" stroke-width="2.0" />
<text transform="translate(154.50,808.96) scale(1,1.03)" font-size="37.6" text-anchor="end" font-family='"Liberation Sans", sans-serif' >1000</text>
<line x1="186.40" y1="760.29" x2="195.90" y2="760.29" stroke="#000" stroke-width="2.0" />
<text transform="translate(154.50,768.09) scale(1,1.03)" font-size="37.6" text-anchor="end" font-family='"Liberation Sans", sans-serif' >1500</text>
<line x1="186.40" y1="719.42" x2="195.90" y2="719.42" stroke="#000" stroke-width="2.0" />
<text transform="translate(154.50,727.22) scale(1,1.03)" font-size="37.6" text-anchor="end" font-family='"Liberation Sans", sans-serif' >2000</text>
<line x1="186.40" y1="678.55" x2="195.90" y2="678.55" stroke="#000" stroke-width="2.0" />
<text transform="translate(154.50,686.35) scale(1,1.03)" font-size="37.6" text-anchor="end" font-family='"Liberation Sans", sans-serif' >2500</text>
<line x1="186.40" y1="637.68" x2="195.90" y2="637.68" stroke="#000" stroke-width="2.0" />
<text transform="translate(154.50,645.48) scale(1,1.03)" font-size="37.6" text-anchor="end" font-family='"Liberation Sans", sans-serif' >3000</text>
<line x1="186.40" y1="596.81" x2="195.90" y2="596.81" stroke="#000" stroke-width="2.0" />
<text transform="translate(154.50,604.61) scale(1,1.03)" font-size="37.6" text-anchor="end" font-family='"Liberation Sans", sans-serif' >3500</text>
<line x1="1199.50" y1="483.00" x2="1208.40" y2="483.00" stroke="#000" stroke-width="2.0" />
<text transform="translate(1188.40,494.70) scale(1,1.03)" font-size="37.6" text-anchor="end" font-family='"Liberation Sans", sans-serif' >11500</text>
<line x1="1199.50" y1="532.80" x2="1208.40" y2="532.80" stroke="#000" stroke-width="2.0" />
<text transform="translate(1188.40,544.50) scale(1,1.03)" font-size="37.6" text-anchor="end" font-family='"Liberation Sans", sans-serif' >11000</text>
<line x1="1199.50" y1="582.60" x2="1208.40" y2="582.60" stroke="#000" stroke-width="2.0" />
<text transform="translate(1188.40,594.30) scale(1,1.03)" font-size="37.6" text-anchor="end" font-family='"Liberation Sans", sans-serif' >10500</text>
<line x1="1199.50" y1="632.40" x2="1208.40" y2="632.40" stroke="#000" stroke-width="2.0" />
<text transform="translate(1188.40,644.10) scale(1,1.03)" font-size="37.6" text-anchor="end" font-family='"Liberation Sans", sans-serif' >10000</text>
<line x1="1199.50" y1="682.20" x2="1208.40" y2="682.20" stroke="#000" stroke-width="2.0" />
<text transform="translate(1188.40,693.90) scale(1,1.03)" font-size="37.6" text-anchor="end" font-family='"Liberation Sans", sans-serif' >9500</text>
<line x1="1199.50" y1="884.80" x2="1208.40" y2="884.80" stroke="#000" stroke-width="2.0" />
<text transform="translate(1188.40,896.50) scale(1,1.03)" font-size="37.6" text-anchor="end" font-family='"Liberation Sans", sans-serif' >0</text>
<line x1="1199.50" y1="845.60" x2="1208.40" y2="845.60" stroke="#000" stroke-width="2.0" />
<text transform="translate(1188.40,857.30) scale(1,1.03)" font-size="37.6" text-anchor="end" font-family='"Liberation Sans", sans-serif' >500</text>
<line x1="1199.50" y1="806.40" x2="1208.40" y2="806.40" stroke="#000" stroke-width="2.0" />
<text transform="translate(1188.40,818.10) scale(1,1.03)" font-size="37.6" text-anchor="end" font-family='"Liberation Sans", sans-serif' >1000</text>
<line x1="1199.50" y1="767.20" x2="1208.40" y2="767.20" stroke="#000" stroke-width="2.0" />
<text transform="translate(1188.40,778.90) scale(1,1.03)" font-size="37.6" text-anchor="end" font-family='"Liberation Sans", sans-serif' >1500</text>
<line x1="1199.50" y1="728.00" x2="1208.40" y2="728.00" stroke="#000" stroke-width="2.0" />
<text transform="translate(1188.40,739.70) scale(1,1.03)" font-size="37.6" text-anchor="end" font-family='"Liberation Sans", sans-serif' >2000</text>
<text transform="translate(584.60,1006.00) scale(1,1.0)" font-size="42.7" text-anchor="middle" font-family='"Liberation Sans", sans-serif' >Time (d)</text>
<text transform="translate(1573.40,1010.80) scale(1,1.0)" font-size="42.7" text-anchor="middle" font-family='"Liberation Sans", sans-serif' >Time (d)</text>
<text transform="translate(97.80,239.80) rotate(-90) scale(1,1.03)" font-size="38" text-anchor="middle" font-family='"Liberation Sans", sans-serif' >WT(<tspan font-size="25" dy="-17.6">o</tspan><tspan dy="17.6">C)</tspan></text>
<text transform="translate(1111.40,239.40) rotate(-90) scale(1,1.03)" font-size="38" text-anchor="middle" font-family='"Liberation Sans", sans-serif' >DO(mg L<tspan font-size="25" dy="-17.6" dx="-3.2">-1</tspan><tspan dy="17.6" dx="3.2">)</tspan></text>
<text transform="translate(39.2,792.0) rotate(-90)" font-size="38" text-anchor="start" font-family='"Liberation Sans", sans-serif'><tspan x="0" y="0">Chl-</tspan><tspan x="91.8" y="0">(</tspan><tspan x="124.6" y="0">g L</tspan><tspan x="171.7" y="-19.0" font-size="24.5">-1</tspan><tspan x="197.8" y="0">)</tspan></text>
<text transform="translate(40.400000000000006,721.0) rotate(-90) scale(1.3,1)" font-size="36" text-anchor="start" font-style="italic" stroke="none" style="stroke:none" font-family='"Liberation Serif", serif'>α</text>
<text transform="translate(39.2,688.0) rotate(-90)" font-size="40" text-anchor="start" stroke="none" style="stroke:none" font-family='"Liberation Serif", serif'>μ</text>
<text transform="translate(1051.80,685.60) rotate(-90) scale(1,1.0)" font-size="42" text-anchor="middle" font-family='"Liberation Serif", serif' style="stroke:none">Total<tspan dx="4"> wet</tspan><tspan dx="4"> weight(mg L</tspan><tspan font-size="27" dy="-19">-1</tspan><tspan dy="19">)</tspan></text>
<text transform="translate(325.20,70.60) scale(1,1.0)" font-size="57.5" text-anchor="start" font-family='"Liberation Sans", sans-serif' >a</text>
<text transform="translate(1331.40,83.60) scale(1,1.0)" font-size="57.5" text-anchor="start" font-family='"Liberation Sans", sans-serif' >b</text>
<text transform="translate(326.80,522.30) scale(1,1.0)" font-size="57.5" text-anchor="start" font-family='"Liberation Sans", sans-serif' >c</text>
<text transform="translate(1337.00,533.30) scale(1,1.0)" font-size="57.5" text-anchor="start" font-family='"Liberation Sans", sans-serif' >d</text>
<line x1="291.60" y1="547.50" x2="302.60" y2="547.50" stroke="#333" stroke-width="0.7" />
<line x1="727.50" y1="52.40" x2="812.10" y2="52.40" stroke="#333" stroke-width="1.0" />
<rect x="759.10" y="41.90" width="21.0" height="21.0" fill="#000"/>
<text transform="translate(821.60,65.70) scale(1,1.03)" font-size="37.6" text-anchor="start" font-family='"Liberation Sans", sans-serif' >Control</text>
<line x1="727.50" y1="98.80" x2="812.10" y2="98.80" stroke="#333" stroke-width="1.0" />
<circle cx="769.60" cy="98.80" r="11.15" fill="#fff" stroke="#000" stroke-width="1.7"/>
<text transform="translate(821.60,112.10) scale(1,1.03)" font-size="37.6" text-anchor="start" font-family='"Liberation Sans", sans-serif' >Low</text>
<line x1="727.50" y1="145.20" x2="812.10" y2="145.20" stroke="#333" stroke-width="1.0" />
<polygon points="769.60,130.82 782.05,152.39 757.15,152.39" fill="#000" stroke="#000" stroke-width="1.9" stroke-linejoin="miter"/>
<text transform="translate(821.60,158.50) scale(1,1.03)" font-size="37.6" text-anchor="start" font-family='"Liberation Sans", sans-serif' >Medium</text>
<line x1="727.50" y1="191.60" x2="812.10" y2="191.60" stroke="#333" stroke-width="1.0" />
<polygon points="769.60,205.98 782.05,184.41 757.15,184.41" fill="#fff" stroke="#000" stroke-width="1.9" stroke-linejoin="miter"/>
<text transform="translate(821.60,204.90) scale(1,1.03)" font-size="37.6" text-anchor="start" font-family='"Liberation Sans", sans-serif' >High</text>
</svg>
</body></html>
